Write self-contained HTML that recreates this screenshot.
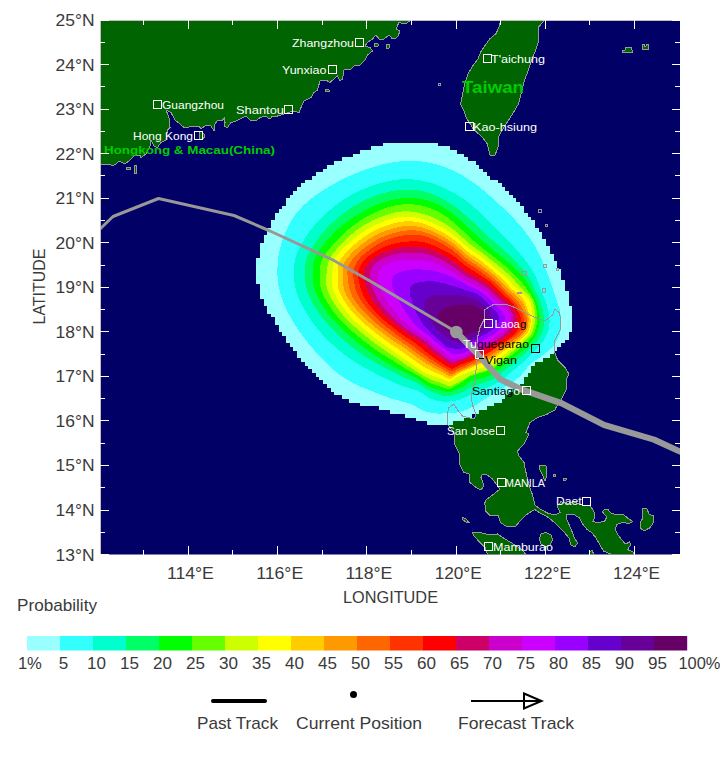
<!DOCTYPE html><html><head><meta charset="utf-8"><title>Storm probability</title><style>html,body{margin:0;padding:0;background:#fff}body{width:720px;height:765px;position:relative;overflow:hidden;font-family:"Liberation Sans",sans-serif}</style></head><body><svg width="720" height="765" viewBox="0 0 720 765" style="position:absolute;left:0;top:0;font-family:'Liberation Sans',sans-serif">
<defs><clipPath id="mc"><rect x="100" y="20" width="580" height="534.5"/></clipPath></defs>
<rect x="0" y="0" width="720" height="765" fill="#ffffff"/>
<rect x="100" y="20" width="580" height="534.5" fill="#000066"/>
<g clip-path="url(#mc)" shape-rendering="crispEdges">
<path d="M100.0 20.0 L410.0 20.0 L410.0 21.0 L405.0 24.0 L399.0 22.5 L396.0 29.0 L400.0 31.0 L397.5 37.5 L392.5 39.0 L389.0 35.0 L384.0 39.0 L379.0 39.0 L376.0 35.0 L372.5 39.0 L367.5 42.5 L365.0 46.0 L370.0 47.5 L372.5 51.0 L367.5 55.0 L365.0 60.0 L360.0 65.0 L355.0 65.0 L351.0 69.0 L344.0 70.0 L342.5 79.0 L340.0 81.0 L337.5 76.0 L334.0 79.0 L330.0 82.5 L326.0 80.0 L320.0 81.0 L317.5 90.0 L314.0 92.5 L311.0 97.5 L304.0 101.0 L301.0 107.5 L299.0 112.5 L292.5 111.0 L284.0 114.0 L277.5 116.0 L272.5 116.0 L270.0 119.0 L265.0 116.0 L260.0 117.5 L256.0 121.0 L250.0 120.0 L246.0 116.0 L240.0 119.0 L236.0 121.0 L231.0 122.5 L227.5 127.5 L224.0 126.0 L225.0 122.5 L224.5 117.5 L222.5 120.0 L217.5 120.0 L215.0 124.0 L214.0 131.0 L211.0 126.0 L206.0 125.0 L201.0 129.0 L199.0 126.0 L184.0 127.5 L180.0 124.0 L175.0 120.0 L171.0 112.5 L166.0 110.0 L169.0 117.5 L170.0 127.5 L167.5 130.0 L166.0 140.0 L161.0 142.5 L157.5 147.5 L154.0 146.0 L151.0 140.0 L150.0 146.0 L146.0 154.0 L141.0 157.5 L140.0 155.0 L134.0 156.0 L130.0 160.0 L125.0 164.0 L119.0 161.0 L116.0 164.0 L112.5 166.0 L110.0 164.0 L100.0 164.0Z M500.8 20.0 L498.8 27.8 L495.9 33.7 L490.0 38.6 L485.0 45.5 L481.0 51.4 L478.0 59.0 L472.0 67.0 L467.5 75.0 L464.5 84.7 L462.5 94.5 L460.6 104.0 L463.5 110.0 L466.5 118.0 L474.0 130.0 L481.0 135.7 L487.0 143.5 L490.0 155.0 L495.0 155.0 L498.0 147.5 L499.0 135.7 L504.7 126.0 L512.5 114.0 L518.4 104.0 L521.4 92.5 L524.3 80.8 L528.0 71.0 L532.0 59.0 L536.0 49.4 L539.0 39.6 L538.0 27.8 L542.0 23.0 L545.0 20.0Z M484.0 310.0 L492.5 305.0 L505.0 304.0 L515.0 307.5 L525.0 312.5 L535.0 317.5 L545.0 321.0 L552.5 315.0 L555.0 309.0 L559.0 312.5 L561.0 320.0 L560.0 330.0 L555.0 340.0 L554.0 350.0 L557.5 360.0 L565.0 367.5 L569.0 374.0 L566.0 380.0 L566.0 390.0 L562.5 397.5 L556.0 407.5 L555.0 410.0 L547.5 414.0 L537.5 417.5 L530.0 422.5 L526.0 432.5 L529.0 434.0 L524.0 444.0 L517.5 451.0 L519.0 456.0 L524.0 462.5 L526.0 472.5 L529.0 485.0 L532.5 495.0 L535.0 505.0 L540.0 509.0 L547.5 513.0 L555.0 515.0 L560.0 512.5 L557.0 506.0 L561.0 501.7 L567.0 503.8 L573.0 501.7 L581.7 505.0 L590.0 505.0 L594.0 512.0 L595.0 517.0 L593.0 521.5 L597.0 522.5 L604.6 521.5 L606.7 517.0 L602.5 512.0 L604.6 509.0 L607.7 509.0 L610.8 513.0 L617.0 515.0 L623.0 514.0 L627.5 518.0 L632.7 521.5 L629.6 523.5 L622.0 522.5 L617.0 524.6 L615.0 528.8 L618.0 535.0 L622.0 540.0 L625.4 544.0 L629.6 542.0 L630.6 545.0 L627.5 549.6 L632.7 551.7 L634.8 554.5 L612.0 554.5 L603.5 551.0 L599.5 544.0 L595.5 537.0 L591.5 532.5 L587.0 529.5 L583.0 524.6 L579.6 518.0 L573.0 514.0 L566.0 514.0 L567.0 520.0 L571.0 528.8 L574.0 537.0 L577.5 543.0 L575.0 546.5 L571.0 545.4 L569.0 538.0 L564.0 532.0 L557.7 525.6 L551.5 520.0 L546.0 516.0 L540.0 513.0 L535.0 509.6 L531.4 511.4 L526.0 515.0 L520.4 520.5 L515.0 527.0 L505.8 526.0 L500.3 522.4 L498.5 516.0 L489.4 515.0 L485.7 511.4 L484.8 503.0 L486.0 500.0 L492.5 495.0 L500.0 489.0 L497.5 486.0 L492.5 479.0 L486.0 474.0 L482.5 474.0 L481.0 477.5 L484.0 486.0 L481.0 490.0 L476.0 487.5 L470.0 482.5 L469.0 474.0 L464.0 472.5 L460.0 465.0 L459.0 452.5 L455.0 445.0 L454.0 432.5 L448.0 425.0 L447.0 415.0 L449.0 407.5 L454.0 404.0 L457.5 410.0 L462.5 416.0 L474.0 419.0 L476.0 415.0 L472.5 405.0 L471.0 395.0 L474.0 385.0 L476.0 370.0 L477.5 355.0 L477.5 337.5 L480.0 327.5 L485.0 317.5Z M643.0 508.0 L647.0 509.0 L649.0 514.0 L653.5 516.0 L653.5 522.5 L650.0 527.7 L644.0 531.0 L640.0 527.7 L640.0 522.5 L643.0 518.0 L642.0 512.0Z M539.0 466.0 L546.0 465.5 L547.0 475.0 L545.0 481.0 L542.5 475.0 L540.0 470.0Z M541.0 534.0 L546.0 532.5 L551.0 535.0 L552.5 540.0 L550.0 545.0 L545.0 546.5 L541.0 544.0 L539.5 539.0Z M472.5 532.5 L480.0 532.5 L490.0 535.0 L497.5 534.0 L505.0 539.0 L515.0 545.0 L522.0 550.0 L526.0 554.5 L487.5 554.5 L485.0 547.5 L480.0 542.5 L474.0 536.0Z M462.5 517.5 L466.0 519.0 L469.0 522.5 L466.0 522.0 L463.0 520.0Z M622.0 50.5 L625.0 50.0 L626.0 47.5 L631.0 47.5 L632.0 50.0 L633.0 52.7 L622.0 52.7Z M642.0 44.0 L644.0 44.0 L644.0 46.0 L646.0 46.0 L646.0 44.0 L648.0 44.0 L648.0 49.6 L642.0 49.6Z M325.0 89.5 L329.0 89.5 L329.0 91.5 L325.0 91.5Z M374.0 43.5 L378.0 43.5 L378.0 46.0 L374.0 46.0Z M386.0 44.0 L389.0 44.0 L389.0 48.0 L386.0 48.0Z M126.0 168.0 L130.0 167.0 L130.0 169.5 L126.0 169.5Z M134.0 165.0 L136.5 165.0 L136.5 173.0 L134.0 173.0Z M199.0 131.5 L202.0 131.0 L205.0 136.0 L203.0 139.0 L199.0 139.0Z M589.5 551.5 L592.0 550.5 L594.0 554.5 L589.5 554.5Z M553.0 474.0 L555.5 474.0 L555.5 476.0 L553.0 476.0Z M563.0 478.0 L566.0 478.0 L566.0 480.0 L563.0 480.0Z" fill="#006400" stroke="#999999" stroke-width="1" stroke-linejoin="round"/>
<path d="M382.6 142.5h55.8v4.0h-55.8zM371.4 146.2h78.1v4.0h-78.1zM360.3 149.9h96.7v4.0h-96.7zM352.8 153.6h111.5v4.0h-111.5zM341.7 157.3h126.4v4.0h-126.4zM334.2 161.0h141.3v4.0h-141.3zM326.8 164.8h152.4v4.0h-152.4zM323.1 168.5h159.9v4.0h-159.9zM315.6 172.2h171.0v4.0h-171.0zM311.9 175.9h178.5v4.0h-178.5zM304.5 179.6h193.3v4.0h-193.3zM300.8 183.3h200.8v4.0h-200.8zM297.1 187.0h208.2v4.0h-208.2zM293.3 190.7h215.6v4.0h-215.6zM289.6 194.5h223.1v4.0h-223.1zM285.9 198.2h230.5v4.0h-230.5zM285.9 201.9h234.2v4.0h-234.2zM282.2 205.6h241.7v4.0h-241.7zM278.5 209.3h245.4v4.0h-245.4zM274.7 213.0h252.8v4.0h-252.8zM274.7 216.7h256.5v4.0h-256.5zM271.0 220.4h264.0v4.0h-264.0zM271.0 224.1h264.0v4.0h-264.0zM267.3 227.9h271.4v4.0h-271.4zM267.3 231.6h275.1v4.0h-275.1zM263.6 235.3h278.8v4.0h-278.8zM263.6 239.0h282.6v4.0h-282.6zM259.9 242.7h286.3v4.0h-286.3zM259.9 246.4h290.0v4.0h-290.0zM259.9 250.1h290.0v4.0h-290.0zM259.9 253.8h293.7v4.0h-293.7zM256.2 257.6h297.4v4.0h-297.4zM256.2 261.3h301.2v4.0h-301.2zM256.2 265.0h301.2v4.0h-301.2zM256.2 268.7h304.9v4.0h-304.9zM256.2 272.4h304.9v4.0h-304.9zM256.2 276.1h304.9v4.0h-304.9zM256.2 279.8h308.6v4.0h-308.6zM259.9 283.5h304.9v4.0h-304.9zM259.9 287.2h304.9v4.0h-304.9zM259.9 291.0h308.6v4.0h-308.6zM259.9 294.7h308.6v4.0h-308.6zM263.6 298.4h304.9v4.0h-304.9zM263.6 302.1h304.9v4.0h-304.9zM267.3 305.8h304.9v4.0h-304.9zM267.3 309.5h304.9v4.0h-304.9zM271.0 313.2h301.2v4.0h-301.2zM274.7 316.9h297.4v4.0h-297.4zM274.7 320.7h297.4v4.0h-297.4zM278.5 324.4h293.7v4.0h-293.7zM278.5 328.1h293.7v4.0h-293.7zM282.2 331.8h286.3v4.0h-286.3zM285.9 335.5h282.6v4.0h-282.6zM285.9 339.2h278.8v4.0h-278.8zM289.6 342.9h271.4v4.0h-271.4zM293.3 346.6h264.0v4.0h-264.0zM297.1 350.4h256.5v4.0h-256.5zM297.1 354.1h252.8v4.0h-252.8zM300.8 357.8h241.7v4.0h-241.7zM304.5 361.5h230.5v4.0h-230.5zM308.2 365.2h223.1v4.0h-223.1zM311.9 368.9h219.4v4.0h-219.4zM315.6 372.6h211.9v4.0h-211.9zM319.4 376.3h204.5v4.0h-204.5zM323.1 380.0h200.8v4.0h-200.8zM326.8 383.8h193.3v4.0h-193.3zM330.5 387.5h182.2v4.0h-182.2zM334.2 391.2h174.7v4.0h-174.7zM341.7 394.9h163.6v4.0h-163.6zM349.1 398.6h152.4v4.0h-152.4zM360.3 402.3h133.8v4.0h-133.8zM378.8 406.0h107.8v4.0h-107.8zM390.0 409.7h89.2v4.0h-89.2zM404.9 413.5h66.9v4.0h-66.9zM416.0 417.2h48.3v4.0h-48.3zM427.2 420.9h26.0v4.0h-26.0z" fill="#99ffff" shape-rendering="crispEdges"/>
<path d="M561.4 320.0 L561.4 323.5 L561.2 326.9 L560.6 330.4 L559.8 333.7 L558.6 337.0 L557.1 340.2 L555.2 343.2 L553.1 346.1 L550.6 348.8 L547.9 351.3 L545.1 353.6 L542.2 355.7 L539.3 357.7 L536.4 359.6 L533.8 361.4 L531.4 363.4 L529.3 365.4 L527.4 367.5 L525.6 369.7 L523.8 371.9 L522.0 374.0 L520.0 376.0 L518.0 378.0 L515.9 379.8 L513.7 381.6 L511.4 383.2 L509.0 384.7 L506.7 386.2 L504.3 387.6 L501.9 389.0 L499.4 390.4 L497.0 391.8 L494.6 393.1 L492.1 394.6 L489.7 396.1 L487.2 397.7 L484.7 399.3 L482.2 401.0 L479.6 402.7 L476.9 404.3 L474.1 405.9 L471.2 407.4 L468.2 408.8 L465.1 410.1 L462.0 411.2 L458.8 412.1 L455.5 412.8 L452.2 413.2 L448.9 413.4 L445.5 413.4 L442.1 413.5 L438.7 413.6 L435.2 413.4 L431.8 412.9 L428.5 412.2 L425.2 411.2 L422.0 409.9 L418.9 408.4 L415.9 406.7 L412.9 405.1 L409.7 403.7 L406.3 402.5 L402.7 401.6 L399.0 400.6 L395.2 399.6 L391.4 398.5 L387.5 397.2 L383.5 395.8 L379.5 394.3 L375.4 392.6 L371.2 391.0 L366.8 389.2 L362.2 387.3 L357.6 385.2 L353.0 382.9 L348.4 380.4 L343.9 377.6 L339.5 374.5 L335.2 371.2 L331.0 367.7 L326.9 363.9 L322.9 359.9 L318.9 355.7 L315.0 351.2 L311.0 346.6 L307.1 341.8 L303.1 336.7 L299.3 331.4 L295.6 325.8 L292.0 320.0 L288.7 313.9 L285.6 307.7 L282.9 301.2 L280.6 294.5 L278.8 287.7 L277.8 280.9 L277.4 274.0 L277.5 267.1 L277.9 260.2 L278.9 253.4 L280.5 246.7 L282.5 240.1 L285.0 233.7 L287.7 227.3 L290.8 221.2 L294.7 215.5 L299.1 210.1 L303.8 205.1 L309.0 200.4 L314.4 196.2 L320.1 192.3 L325.9 188.6 L331.8 185.1 L337.6 181.8 L343.5 178.8 L349.5 176.0 L355.5 173.4 L361.5 171.1 L367.6 168.9 L373.7 167.0 L379.7 165.2 L385.8 163.7 L391.9 162.5 L398.0 161.6 L404.1 161.0 L410.3 160.8 L416.4 161.0 L422.5 161.6 L428.5 162.5 L434.5 163.8 L440.3 165.5 L446.0 167.5 L451.5 169.8 L456.8 172.3 L462.0 175.2 L467.0 178.2 L471.7 181.3 L476.2 184.6 L480.6 188.0 L484.7 191.4 L488.6 194.8 L492.4 198.1 L496.0 201.4 L499.5 204.6 L502.9 207.7 L506.1 210.8 L509.3 213.9 L512.3 216.9 L515.2 220.0 L517.9 223.1 L520.6 226.2 L523.2 229.3 L525.6 232.4 L528.0 235.6 L530.2 238.7 L532.3 241.9 L534.3 245.1 L536.2 248.3 L538.0 251.6 L539.6 254.9 L541.1 258.2 L542.6 261.5 L544.0 264.7 L545.3 268.0 L546.5 271.2 L547.8 274.4 L549.0 277.6 L550.1 280.8 L551.2 283.9 L552.3 287.1 L553.4 290.3 L554.5 293.5 L555.5 296.7 L556.6 299.9 L557.6 303.1 L558.7 306.4 L559.6 309.7 L560.4 313.1 L561.0 316.5Z" fill="#33ffff"/>
<path d="M549.5 320.0 L549.5 323.1 L549.3 326.1 L548.7 329.1 L547.9 332.1 L546.8 334.9 L545.4 337.7 L543.8 340.4 L542.0 342.9 L540.0 345.3 L537.9 347.6 L535.8 349.8 L533.6 351.9 L531.5 353.9 L529.5 355.9 L527.5 357.8 L525.6 359.7 L523.6 361.6 L521.7 363.4 L519.7 365.1 L517.7 366.8 L515.8 368.4 L513.8 370.0 L511.9 371.7 L510.0 373.3 L508.0 374.9 L506.1 376.4 L504.1 378.0 L502.1 379.5 L500.1 380.9 L498.0 382.3 L495.8 383.7 L493.6 384.9 L491.4 386.0 L489.1 387.0 L486.7 388.0 L484.4 388.9 L482.0 389.8 L479.6 390.8 L477.3 391.8 L474.8 392.8 L472.4 394.0 L469.9 395.2 L467.3 396.4 L464.7 397.6 L462.0 398.7 L459.2 399.7 L456.4 400.4 L453.5 400.9 L450.6 401.3 L447.6 401.6 L444.6 401.7 L441.7 401.5 L438.8 401.1 L435.9 400.4 L433.0 399.6 L430.3 398.5 L427.6 397.2 L425.2 395.5 L422.8 393.7 L420.4 392.1 L417.7 390.8 L414.9 389.9 L411.9 389.0 L408.8 388.1 L405.7 387.1 L402.6 386.0 L399.5 384.8 L396.3 383.5 L393.1 382.1 L389.8 380.6 L386.5 379.0 L383.0 377.4 L379.6 375.6 L376.0 373.8 L372.3 371.8 L368.4 369.8 L364.4 367.6 L360.4 365.3 L356.2 362.7 L352.0 360.0 L347.9 357.1 L343.7 353.9 L339.5 350.6 L335.2 346.9 L331.0 343.1 L326.8 339.0 L322.6 334.6 L318.6 330.0 L314.7 325.1 L310.9 320.0 L307.4 314.6 L304.0 309.0 L300.9 303.1 L298.2 297.0 L296.1 290.7 L294.6 284.4 L294.0 278.1 L293.8 271.8 L294.1 265.4 L295.0 259.2 L297.0 253.3 L299.6 247.7 L302.5 242.2 L305.7 236.9 L309.2 231.8 L313.0 226.9 L317.0 222.2 L321.4 217.8 L325.9 213.7 L330.5 209.6 L335.1 205.7 L339.9 202.1 L344.9 198.8 L350.1 195.7 L355.4 192.9 L360.7 190.4 L366.2 188.1 L371.6 186.0 L377.1 184.1 L382.6 182.5 L388.2 181.2 L393.8 180.2 L399.4 179.5 L405.1 179.2 L410.8 179.3 L416.4 179.8 L422.1 180.7 L427.6 182.0 L433.0 183.6 L438.3 185.5 L443.4 187.7 L448.3 190.0 L453.1 192.5 L457.6 195.2 L462.0 198.0 L466.2 200.9 L470.1 203.9 L473.9 207.1 L477.4 210.3 L480.8 213.5 L484.0 216.6 L487.0 219.7 L489.9 222.6 L492.7 225.5 L495.4 228.2 L498.1 230.8 L500.6 233.3 L503.1 235.7 L505.5 238.1 L507.9 240.5 L510.2 242.9 L512.4 245.3 L514.6 247.6 L516.7 250.0 L518.7 252.4 L520.7 254.8 L522.7 257.1 L524.6 259.5 L526.5 262.0 L528.3 264.4 L530.0 266.9 L531.7 269.4 L533.2 272.0 L534.7 274.6 L536.0 277.3 L537.2 280.0 L538.3 282.8 L539.3 285.6 L540.3 288.4 L541.3 291.1 L542.5 293.9 L543.7 296.6 L544.8 299.4 L545.8 302.2 L546.8 305.1 L547.6 308.0 L548.3 310.9 L548.8 313.9 L549.2 317.0Z" fill="#00ffcc"/>
<path d="M544.1 320.0 L544.0 322.9 L543.7 325.7 L543.2 328.5 L542.4 331.3 L541.4 334.0 L540.1 336.6 L538.6 339.1 L537.0 341.5 L535.1 343.8 L533.1 345.9 L531.1 347.9 L529.0 349.8 L527.0 351.7 L525.0 353.5 L523.0 355.2 L521.1 356.9 L519.2 358.6 L517.3 360.2 L515.4 361.7 L513.5 363.2 L511.7 364.7 L509.9 366.2 L508.1 367.7 L506.3 369.2 L504.5 370.6 L502.7 372.1 L500.9 373.5 L499.0 374.9 L497.1 376.2 L495.2 377.5 L493.2 378.7 L491.2 379.8 L489.1 380.8 L486.9 381.7 L484.8 382.5 L482.6 383.3 L480.4 384.1 L478.2 384.8 L475.9 385.6 L473.7 386.5 L471.5 387.4 L469.2 388.6 L466.9 389.8 L464.5 391.1 L462.0 392.3 L459.4 393.3 L456.8 394.1 L454.1 394.9 L451.4 395.7 L448.6 396.2 L445.8 396.2 L443.1 395.7 L440.5 394.9 L437.9 394.1 L435.3 393.3 L432.8 392.4 L430.3 391.3 L427.9 390.0 L425.6 388.5 L423.3 387.0 L421.1 385.5 L418.8 384.1 L416.4 382.8 L413.8 381.6 L411.2 380.5 L408.5 379.4 L405.8 378.2 L403.0 377.0 L400.1 375.7 L397.2 374.3 L394.3 372.9 L391.3 371.3 L388.3 369.7 L385.2 368.0 L382.0 366.2 L378.6 364.4 L375.1 362.4 L371.4 360.3 L367.8 358.1 L364.0 355.7 L360.2 353.1 L356.4 350.3 L352.5 347.3 L348.5 344.1 L344.4 340.7 L340.3 337.1 L336.2 333.2 L332.1 329.1 L328.1 324.7 L324.1 320.0 L320.3 315.1 L316.7 309.8 L313.4 304.4 L310.4 298.7 L307.8 292.8 L306.0 286.8 L305.0 280.9 L304.7 274.9 L304.8 268.9 L305.4 263.0 L306.9 257.3 L309.4 252.0 L312.4 247.0 L315.6 242.2 L319.0 237.4 L322.6 232.9 L326.4 228.6 L330.5 224.4 L334.7 220.5 L339.0 216.8 L343.5 213.3 L348.1 210.0 L352.8 206.9 L357.6 204.0 L362.5 201.4 L367.5 199.0 L372.6 196.9 L377.7 195.0 L382.9 193.3 L388.1 192.0 L393.3 190.9 L398.6 190.1 L403.9 189.6 L409.3 189.5 L414.6 189.9 L420.0 190.6 L425.2 191.8 L430.4 193.4 L435.5 195.3 L440.4 197.6 L445.2 200.2 L449.7 203.1 L454.0 206.0 L458.1 209.1 L462.0 212.3 L465.7 215.4 L469.1 218.5 L472.4 221.4 L475.5 224.3 L478.4 227.1 L481.2 229.7 L483.9 232.3 L486.4 234.8 L488.9 237.1 L491.4 239.3 L493.7 241.4 L496.1 243.5 L498.4 245.4 L500.6 247.4 L502.8 249.3 L505.0 251.2 L507.1 253.1 L509.2 255.0 L511.2 257.0 L513.2 259.0 L515.2 260.9 L517.1 263.0 L519.0 265.0 L520.8 267.1 L522.6 269.1 L524.4 271.3 L526.1 273.4 L527.7 275.7 L529.3 277.9 L530.7 280.3 L532.0 282.8 L533.2 285.3 L534.2 287.8 L535.3 290.4 L536.4 292.9 L537.7 295.4 L538.9 298.0 L539.9 300.6 L540.8 303.2 L541.6 306.0 L542.4 308.7 L543.0 311.5 L543.5 314.3 L543.9 317.1Z" fill="#00ff66"/>
<path d="M539.8 320.0 L539.5 322.7 L539.1 325.4 L538.6 328.0 L537.9 330.7 L536.9 333.2 L535.7 335.7 L534.4 338.0 L532.8 340.3 L531.1 342.4 L529.2 344.5 L527.3 346.4 L525.3 348.2 L523.4 349.9 L521.4 351.6 L519.5 353.2 L517.6 354.7 L515.7 356.2 L513.9 357.7 L512.0 359.1 L510.3 360.5 L508.5 361.9 L506.8 363.2 L505.0 364.6 L503.3 365.9 L501.7 367.3 L500.0 368.6 L498.3 369.9 L496.6 371.2 L494.8 372.5 L493.0 373.7 L491.1 374.8 L489.2 375.8 L487.2 376.6 L485.2 377.4 L483.1 378.0 L481.0 378.6 L479.0 379.1 L476.9 379.6 L474.8 380.1 L472.7 380.6 L470.6 381.4 L468.6 382.5 L466.5 384.1 L464.3 385.7 L462.0 387.1 L459.6 388.4 L457.1 389.4 L454.6 390.4 L452.0 391.5 L449.3 392.1 L446.7 391.9 L444.2 391.4 L441.7 390.7 L439.3 390.0 L436.7 389.4 L434.2 388.7 L431.8 387.9 L429.4 386.9 L427.1 385.7 L424.9 384.3 L422.8 382.7 L420.8 381.0 L418.7 379.6 L416.5 378.2 L414.2 377.0 L411.7 375.8 L409.2 374.7 L406.6 373.5 L404.0 372.2 L401.3 370.9 L398.7 369.5 L396.0 368.0 L393.2 366.4 L390.4 364.7 L387.5 363.0 L384.5 361.2 L381.3 359.4 L378.1 357.4 L374.8 355.2 L371.4 353.0 L368.0 350.5 L364.5 348.0 L360.9 345.2 L357.2 342.3 L353.3 339.2 L349.5 335.8 L345.5 332.2 L341.5 328.4 L337.4 324.4 L333.4 320.0 L329.6 315.4 L325.9 310.5 L322.5 305.3 L319.3 299.9 L316.5 294.3 L314.4 288.6 L313.2 282.9 L312.8 277.2 L312.7 271.5 L312.9 265.7 L313.9 260.2 L316.2 255.1 L319.3 250.4 L322.6 245.9 L326.1 241.6 L329.8 237.4 L333.5 233.4 L337.5 229.5 L341.6 225.9 L345.9 222.5 L350.2 219.4 L354.7 216.3 L359.2 213.5 L363.8 210.9 L368.4 208.4 L373.1 206.2 L377.9 204.2 L382.7 202.5 L387.6 201.0 L392.6 199.7 L397.5 198.8 L402.5 198.1 L407.6 197.8 L412.6 197.8 L417.7 198.3 L422.7 199.1 L427.7 200.3 L432.6 201.9 L437.3 204.0 L442.0 206.4 L446.4 209.2 L450.7 212.2 L454.7 215.3 L458.5 218.6 L462.0 221.8 L465.3 224.9 L468.4 227.8 L471.4 230.5 L474.2 233.1 L476.9 235.6 L479.4 237.9 L481.9 240.2 L484.3 242.4 L486.6 244.4 L488.8 246.4 L491.0 248.2 L493.2 249.9 L495.3 251.6 L497.5 253.3 L499.6 254.9 L501.6 256.6 L503.7 258.2 L505.7 259.9 L507.6 261.6 L509.6 263.3 L511.5 265.0 L513.4 266.8 L515.2 268.6 L517.0 270.5 L518.8 272.3 L520.6 274.2 L522.3 276.2 L524.0 278.2 L525.6 280.3 L527.0 282.5 L528.3 284.7 L529.5 287.1 L530.6 289.5 L531.7 291.8 L533.0 294.2 L534.3 296.5 L535.5 298.9 L536.5 301.4 L537.3 304.0 L538.0 306.6 L538.6 309.2 L539.1 311.9 L539.5 314.6 L539.8 317.3Z" fill="#00ff00"/>
<path d="M537.3 320.0 L537.0 322.6 L536.5 325.2 L535.9 327.8 L535.2 330.3 L534.2 332.7 L532.9 335.1 L531.3 337.3 L529.6 339.4 L527.8 341.4 L526.0 343.3 L524.1 345.1 L522.1 346.8 L520.2 348.4 L518.3 350.0 L516.5 351.4 L514.6 352.9 L512.8 354.3 L511.1 355.6 L509.3 357.0 L507.6 358.3 L505.9 359.5 L504.2 360.8 L502.6 362.0 L501.0 363.3 L499.3 364.5 L497.7 365.6 L496.0 366.8 L494.3 367.9 L492.5 368.9 L490.7 369.8 L488.9 370.6 L487.0 371.3 L485.1 371.9 L483.2 372.4 L481.3 372.9 L479.4 373.4 L477.5 374.0 L475.6 374.5 L473.7 375.1 L471.8 375.8 L470.0 376.7 L468.1 377.8 L466.1 379.1 L464.1 380.6 L462.0 382.0 L459.8 383.4 L457.5 384.7 L455.1 386.1 L452.5 387.7 L449.9 388.8 L447.4 388.9 L445.0 388.2 L442.7 387.3 L440.4 386.5 L438.1 385.8 L435.7 385.1 L433.3 384.4 L431.0 383.5 L428.8 382.4 L426.7 381.2 L424.7 379.8 L422.6 378.4 L420.6 377.0 L418.5 375.7 L416.3 374.5 L414.0 373.3 L411.8 372.0 L409.4 370.7 L407.1 369.4 L404.7 368.1 L402.3 366.6 L399.9 365.1 L397.4 363.5 L394.9 361.9 L392.2 360.3 L389.4 358.6 L386.6 356.8 L383.6 354.9 L380.5 352.9 L377.4 350.8 L374.1 348.6 L370.8 346.2 L367.3 343.6 L363.8 340.9 L360.1 338.0 L356.4 334.8 L352.5 331.5 L348.6 327.9 L344.6 324.1 L340.6 320.0 L336.7 315.6 L333.1 311.0 L329.6 306.1 L326.3 300.9 L323.5 295.6 L321.2 290.1 L319.9 284.6 L319.5 279.1 L319.6 273.7 L319.9 268.3 L320.8 263.0 L322.8 258.0 L325.6 253.5 L329.0 249.3 L332.5 245.3 L336.1 241.3 L339.7 237.5 L343.4 233.9 L347.3 230.4 L351.3 227.1 L355.4 224.0 L359.6 221.1 L363.8 218.3 L368.2 215.8 L372.6 213.5 L377.1 211.4 L381.7 209.5 L386.3 207.8 L391.0 206.4 L395.8 205.3 L400.6 204.6 L405.5 204.2 L410.4 204.2 L415.4 204.6 L420.3 205.4 L425.2 206.6 L429.9 208.1 L434.6 210.0 L439.1 212.2 L443.4 214.8 L447.6 217.5 L451.5 220.5 L455.3 223.7 L458.7 226.9 L462.0 230.0 L465.0 233.0 L467.9 235.7 L470.6 238.2 L473.2 240.4 L475.7 242.4 L478.1 244.4 L480.4 246.2 L482.6 248.1 L484.8 249.8 L486.9 251.5 L489.0 253.2 L491.0 254.8 L493.1 256.3 L495.0 257.9 L497.0 259.4 L498.9 260.9 L500.8 262.4 L502.7 264.0 L504.6 265.5 L506.4 267.1 L508.2 268.7 L510.0 270.3 L511.7 272.0 L513.4 273.7 L515.1 275.4 L516.8 277.2 L518.5 279.0 L520.2 280.8 L521.8 282.6 L523.4 284.5 L525.0 286.5 L526.5 288.6 L527.9 290.7 L529.4 292.8 L530.9 294.9 L532.3 297.2 L533.6 299.5 L534.6 301.9 L535.4 304.4 L536.0 307.0 L536.5 309.5 L536.9 312.1 L537.3 314.7 L537.4 317.4Z" fill="#66ff00"/>
<path d="M535.1 320.0 L534.7 322.5 L534.3 325.1 L533.7 327.5 L533.0 330.0 L532.0 332.3 L530.6 334.6 L529.0 336.7 L527.3 338.7 L525.4 340.6 L523.6 342.4 L521.7 344.1 L519.8 345.7 L518.0 347.3 L516.1 348.8 L514.4 350.2 L512.6 351.6 L510.9 353.0 L509.2 354.3 L507.6 355.6 L506.0 356.9 L504.4 358.2 L502.8 359.4 L501.2 360.6 L499.6 361.8 L498.1 363.0 L496.5 364.1 L494.8 365.2 L493.2 366.3 L491.5 367.3 L489.9 368.2 L488.1 369.1 L486.4 370.0 L484.6 370.7 L482.7 371.3 L480.9 371.8 L479.0 372.3 L477.1 372.8 L475.3 373.4 L473.5 374.0 L471.6 374.6 L469.8 375.5 L467.9 376.6 L466.1 377.9 L464.1 379.3 L462.0 380.5 L459.8 381.6 L457.6 382.7 L455.3 383.8 L452.9 385.0 L450.4 386.0 L448.0 385.9 L445.8 385.0 L443.6 384.0 L441.5 383.1 L439.3 382.3 L437.1 381.7 L434.8 381.0 L432.6 380.3 L430.4 379.4 L428.3 378.3 L426.3 377.2 L424.3 376.0 L422.2 374.7 L420.2 373.5 L418.1 372.3 L416.0 371.0 L414.0 369.7 L411.9 368.4 L409.8 367.0 L407.6 365.6 L405.5 364.2 L403.3 362.7 L401.0 361.1 L398.7 359.5 L396.3 357.9 L393.8 356.3 L391.2 354.5 L388.5 352.7 L385.7 350.8 L382.8 348.8 L379.8 346.7 L376.6 344.5 L373.4 342.1 L370.1 339.5 L366.6 336.8 L363.1 333.9 L359.3 330.8 L355.5 327.4 L351.5 323.9 L347.6 320.0 L343.7 315.9 L340.0 311.5 L336.5 306.8 L333.3 301.9 L330.3 296.8 L328.0 291.5 L326.5 286.2 L326.1 281.0 L326.3 275.9 L326.8 270.8 L327.6 265.7 L328.9 260.7 L331.2 256.2 L334.3 252.1 L337.5 248.1 L340.9 244.3 L344.4 240.7 L348.1 237.3 L351.9 234.0 L355.8 230.9 L359.8 228.0 L363.9 225.2 L368.1 222.8 L372.4 220.5 L376.8 218.5 L381.3 216.7 L385.8 215.1 L390.3 213.7 L394.9 212.6 L399.5 211.8 L404.2 211.3 L409.0 211.4 L413.8 211.8 L418.7 212.8 L423.4 214.0 L428.1 215.5 L432.6 217.3 L436.9 219.3 L441.0 221.4 L445.0 223.7 L448.8 226.1 L452.4 228.8 L455.8 231.5 L459.0 234.3 L462.0 237.1 L464.8 239.7 L467.4 242.1 L470.0 244.2 L472.4 246.0 L474.8 247.7 L477.0 249.3 L479.2 250.8 L481.4 252.4 L483.4 254.0 L485.5 255.5 L487.4 257.1 L489.3 258.6 L491.2 260.1 L493.1 261.5 L494.9 263.0 L496.7 264.4 L498.5 265.8 L500.3 267.3 L502.1 268.7 L503.8 270.2 L505.5 271.7 L507.2 273.2 L508.8 274.8 L510.4 276.4 L512.1 278.0 L513.7 279.6 L515.3 281.3 L516.9 283.0 L518.6 284.7 L520.2 286.4 L522.0 288.1 L523.7 289.9 L525.4 291.8 L527.2 293.7 L528.9 295.7 L530.5 297.7 L531.8 300.0 L532.9 302.3 L533.6 304.8 L534.1 307.3 L534.5 309.8 L534.9 312.3 L535.2 314.9 L535.3 317.4Z" fill="#ccff00"/>
<path d="M532.4 320.0 L532.0 322.4 L531.6 324.9 L531.1 327.3 L530.4 329.6 L529.4 331.9 L528.0 334.0 L526.3 336.0 L524.5 337.9 L522.7 339.7 L520.8 341.4 L519.0 343.0 L517.2 344.6 L515.4 346.0 L513.6 347.5 L511.9 348.8 L510.2 350.1 L508.6 351.4 L506.9 352.7 L505.3 353.9 L503.8 355.0 L502.2 356.2 L500.6 357.3 L499.1 358.4 L497.6 359.5 L496.0 360.5 L494.5 361.5 L492.9 362.5 L491.3 363.4 L489.7 364.3 L488.0 365.1 L486.4 365.8 L484.7 366.6 L483.1 367.3 L481.4 368.0 L479.7 368.6 L478.0 369.2 L476.3 369.8 L474.6 370.4 L472.8 371.0 L471.1 371.6 L469.3 372.2 L467.6 372.8 L465.7 373.5 L463.9 374.2 L462.0 374.9 L460.1 375.7 L458.0 376.6 L455.9 377.8 L453.6 379.6 L451.2 381.3 L448.9 381.8 L446.8 381.1 L444.7 380.2 L442.8 379.1 L440.8 378.2 L438.8 377.5 L436.6 377.0 L434.5 376.4 L432.4 375.7 L430.3 374.9 L428.2 374.1 L426.2 373.1 L424.1 372.1 L422.1 371.1 L420.1 369.9 L418.2 368.6 L416.3 367.3 L414.4 365.9 L412.5 364.5 L410.6 363.1 L408.6 361.7 L406.6 360.3 L404.5 358.8 L402.3 357.3 L400.1 355.8 L397.8 354.2 L395.4 352.5 L392.9 350.8 L390.3 349.0 L387.5 347.1 L384.7 345.1 L381.7 343.0 L378.6 340.8 L375.5 338.4 L372.3 335.8 L368.9 333.1 L365.3 330.2 L361.6 327.0 L357.7 323.6 L353.9 320.0 L350.1 316.1 L346.4 311.9 L343.0 307.5 L339.7 302.8 L336.7 297.9 L334.2 292.8 L332.6 287.7 L332.0 282.7 L332.0 277.8 L332.3 272.8 L332.5 267.7 L333.2 262.6 L335.0 258.1 L338.1 254.1 L341.5 250.4 L345.0 246.9 L348.6 243.5 L352.3 240.3 L356.1 237.3 L359.9 234.3 L363.8 231.6 L367.8 229.0 L371.9 226.7 L376.1 224.6 L380.4 222.7 L384.7 221.1 L389.1 219.6 L393.5 218.4 L397.9 217.4 L402.4 216.7 L407.0 216.5 L411.6 216.7 L416.3 217.5 L421.0 218.6 L425.7 220.1 L430.1 221.9 L434.4 223.7 L438.5 225.7 L442.4 227.7 L446.1 229.8 L449.6 232.1 L453.0 234.5 L456.2 237.0 L459.2 239.7 L462.0 242.3 L464.6 244.7 L467.1 246.8 L469.5 248.7 L471.8 250.3 L474.0 251.7 L476.2 253.1 L478.3 254.5 L480.4 256.0 L482.3 257.4 L484.2 258.9 L486.1 260.4 L487.9 261.9 L489.6 263.4 L491.3 264.9 L493.0 266.3 L494.7 267.7 L496.4 269.1 L498.0 270.4 L499.6 271.8 L501.2 273.3 L502.8 274.7 L504.4 276.1 L505.9 277.6 L507.4 279.2 L508.8 280.7 L510.3 282.3 L511.8 283.8 L513.3 285.4 L515.0 286.9 L516.7 288.4 L518.5 289.9 L520.5 291.5 L522.5 293.1 L524.5 294.7 L526.4 296.6 L528.1 298.5 L529.5 300.6 L530.5 302.9 L531.1 305.3 L531.6 307.7 L532.0 310.2 L532.4 312.6 L532.7 315.1 L532.7 317.5Z" fill="#ffff00"/>
<path d="M530.6 320.0 L530.6 322.4 L530.4 324.8 L529.9 327.1 L529.2 329.4 L528.2 331.7 L526.8 333.8 L525.1 335.7 L523.2 337.6 L521.3 339.3 L519.2 340.8 L517.2 342.3 L515.2 343.7 L513.2 345.0 L511.3 346.2 L509.5 347.4 L507.7 348.6 L506.0 349.7 L504.4 350.8 L502.8 351.9 L501.3 353.0 L499.8 354.0 L498.3 355.1 L496.8 356.1 L495.3 357.0 L493.8 357.9 L492.3 358.8 L490.7 359.6 L489.2 360.3 L487.6 360.9 L486.0 361.6 L484.4 362.2 L482.9 362.8 L481.4 363.5 L479.8 364.1 L478.3 364.8 L476.8 365.5 L475.2 366.1 L473.7 366.8 L472.1 367.5 L470.5 368.2 L468.9 368.9 L467.2 369.6 L465.5 370.4 L463.8 371.1 L462.0 371.9 L460.2 372.7 L458.2 373.7 L456.2 375.0 L454.0 376.7 L451.7 378.4 L449.5 378.8 L447.5 378.2 L445.6 377.2 L443.8 376.1 L441.9 375.1 L440.0 374.4 L438.1 373.7 L436.2 373.0 L434.2 372.2 L432.4 371.4 L430.5 370.5 L428.6 369.5 L426.7 368.6 L424.9 367.5 L423.0 366.4 L421.2 365.3 L419.4 364.1 L417.7 362.8 L415.9 361.5 L414.1 360.2 L412.2 358.9 L410.4 357.5 L408.4 356.1 L406.4 354.7 L404.4 353.3 L402.2 351.8 L400.0 350.2 L397.7 348.6 L395.2 347.0 L392.6 345.3 L389.9 343.4 L387.0 341.5 L384.1 339.4 L381.1 337.2 L378.0 334.8 L374.8 332.3 L371.3 329.5 L367.7 326.6 L364.0 323.4 L360.2 320.0 L356.5 316.3 L352.9 312.4 L349.4 308.2 L346.1 303.7 L343.0 299.0 L340.4 294.1 L338.6 289.2 L337.8 284.4 L337.6 279.6 L337.6 274.7 L337.8 269.8 L338.3 264.9 L340.0 260.5 L342.7 256.6 L345.8 252.9 L349.1 249.4 L352.5 246.2 L356.1 243.1 L359.8 240.1 L363.5 237.4 L367.3 234.7 L371.2 232.3 L375.2 230.2 L379.4 228.2 L383.6 226.5 L387.8 225.1 L392.1 223.8 L396.4 222.7 L400.7 221.9 L405.0 221.4 L409.5 221.2 L414.0 221.6 L418.6 222.4 L423.1 223.6 L427.5 225.2 L431.8 226.9 L435.9 228.8 L439.8 230.8 L443.5 232.8 L447.0 234.9 L450.4 237.1 L453.5 239.5 L456.5 241.9 L459.4 244.4 L462.0 246.8 L464.5 249.1 L466.8 251.1 L469.1 252.9 L471.2 254.4 L473.3 255.7 L475.4 257.1 L477.4 258.4 L479.3 259.7 L481.1 261.1 L482.9 262.5 L484.7 263.9 L486.4 265.3 L488.0 266.6 L489.7 268.0 L491.3 269.3 L492.9 270.6 L494.4 271.9 L496.0 273.3 L497.5 274.6 L499.0 275.9 L500.5 277.3 L501.9 278.7 L503.3 280.1 L504.7 281.5 L506.1 283.0 L507.5 284.5 L508.9 285.9 L510.3 287.4 L511.8 288.9 L513.4 290.3 L515.1 291.7 L516.9 293.2 L518.8 294.7 L520.6 296.3 L522.3 298.1 L523.8 299.9 L525.0 301.9 L526.0 304.0 L526.7 306.2 L527.4 308.5 L528.1 310.7 L528.9 313.0 L529.8 315.3 L530.3 317.6Z" fill="#ffcc00"/>
<path d="M528.6 320.0 L528.5 322.3 L528.3 324.6 L527.8 326.9 L527.1 329.2 L526.0 331.3 L524.5 333.3 L522.7 335.1 L520.8 336.9 L518.9 338.5 L517.0 340.0 L515.1 341.4 L513.2 342.8 L511.3 344.1 L509.5 345.3 L507.8 346.4 L506.1 347.5 L504.5 348.6 L502.9 349.7 L501.4 350.8 L499.9 351.8 L498.4 352.8 L497.0 353.8 L495.6 354.8 L494.2 355.8 L492.8 356.7 L491.4 357.6 L489.9 358.4 L488.5 359.2 L486.9 359.9 L485.4 360.5 L483.9 361.1 L482.4 361.7 L480.9 362.4 L479.4 363.0 L477.9 363.7 L476.4 364.3 L474.9 365.0 L473.4 365.6 L471.8 366.3 L470.3 367.0 L468.7 367.7 L467.1 368.4 L465.4 369.2 L463.7 369.9 L462.0 370.7 L460.2 371.5 L458.3 372.4 L456.4 373.4 L454.3 374.8 L452.1 376.1 L450.0 376.3 L448.1 375.6 L446.3 374.6 L444.6 373.5 L442.9 372.4 L441.2 371.5 L439.4 370.7 L437.7 369.9 L436.0 369.0 L434.3 368.0 L432.6 367.1 L430.9 366.1 L429.2 365.2 L427.4 364.2 L425.7 363.2 L424.0 362.2 L422.3 361.1 L420.7 359.9 L419.0 358.7 L417.3 357.5 L415.6 356.2 L413.9 354.9 L412.1 353.6 L410.3 352.3 L408.4 350.9 L406.5 349.5 L404.4 348.1 L402.2 346.6 L399.9 345.1 L397.5 343.5 L394.9 341.8 L392.2 340.0 L389.5 338.1 L386.6 336.0 L383.7 333.8 L380.5 331.4 L377.2 328.9 L373.8 326.2 L370.2 323.2 L366.5 320.0 L362.8 316.5 L359.3 312.8 L355.8 308.8 L352.4 304.6 L349.3 300.1 L346.5 295.5 L344.5 290.7 L343.4 286.0 L342.8 281.3 L342.6 276.5 L342.5 271.7 L342.9 267.0 L344.4 262.6 L346.9 258.8 L349.8 255.2 L352.9 251.8 L356.3 248.7 L359.8 245.8 L363.4 243.0 L367.1 240.4 L370.9 237.9 L374.7 235.7 L378.7 233.7 L382.7 231.9 L386.8 230.4 L390.9 229.1 L395.1 227.9 L399.3 227.0 L403.4 226.3 L407.7 225.9 L411.9 225.9 L416.3 226.3 L420.7 227.1 L425.0 228.4 L429.2 229.9 L433.3 231.6 L437.2 233.5 L440.9 235.4 L444.4 237.4 L447.8 239.4 L451.0 241.5 L454.0 243.8 L456.8 246.1 L459.5 248.5 L462.0 250.8 L464.3 252.9 L466.6 254.8 L468.7 256.4 L470.7 257.9 L472.7 259.1 L474.7 260.4 L476.6 261.6 L478.4 262.8 L480.2 264.1 L481.9 265.3 L483.6 266.6 L485.2 267.9 L486.8 269.1 L488.4 270.4 L489.9 271.6 L491.5 272.9 L493.0 274.1 L494.5 275.3 L495.9 276.6 L497.4 277.8 L498.8 279.1 L500.2 280.5 L501.6 281.8 L502.9 283.2 L504.2 284.6 L505.5 286.0 L506.9 287.4 L508.2 288.8 L509.7 290.2 L511.2 291.6 L512.9 293.0 L514.6 294.4 L516.4 295.8 L518.1 297.3 L519.8 299.0 L521.4 300.7 L522.7 302.6 L523.7 304.6 L524.6 306.7 L525.4 308.8 L526.3 311.0 L527.2 313.1 L528.0 315.4 L528.5 317.7Z" fill="#ff9900"/>
<path d="M527.0 320.0 L527.0 322.3 L526.8 324.5 L526.3 326.8 L525.5 328.9 L524.2 331.0 L522.6 332.9 L520.7 334.6 L518.8 336.3 L516.8 337.8 L514.8 339.2 L512.8 340.5 L510.9 341.8 L509.1 343.0 L507.3 344.1 L505.5 345.1 L503.9 346.2 L502.3 347.2 L500.8 348.2 L499.4 349.2 L498.0 350.2 L496.6 351.2 L495.3 352.1 L493.9 353.1 L492.6 354.0 L491.2 354.8 L489.8 355.6 L488.5 356.4 L487.1 357.2 L485.7 357.9 L484.3 358.6 L482.9 359.3 L481.5 360.0 L480.1 360.7 L478.7 361.4 L477.3 362.1 L475.9 362.8 L474.5 363.5 L473.0 364.2 L471.5 364.9 L470.0 365.6 L468.5 366.3 L466.9 367.0 L465.3 367.7 L463.7 368.3 L462.0 369.0 L460.3 369.7 L458.5 370.5 L456.6 371.4 L454.6 372.7 L452.5 373.8 L450.5 373.9 L448.7 373.2 L447.0 372.2 L445.4 371.1 L443.8 370.1 L442.1 369.2 L440.4 368.4 L438.8 367.6 L437.2 366.6 L435.6 365.7 L434.1 364.7 L432.5 363.7 L430.9 362.8 L429.3 361.8 L427.7 360.9 L426.1 359.9 L424.5 358.8 L423.0 357.7 L421.4 356.6 L419.8 355.4 L418.2 354.2 L416.6 353.0 L415.0 351.7 L413.3 350.4 L411.6 349.1 L409.8 347.8 L407.8 346.4 L405.8 345.0 L403.6 343.6 L401.4 342.1 L399.0 340.5 L396.5 338.8 L393.9 337.0 L391.3 335.0 L388.6 333.0 L385.6 330.7 L382.5 328.4 L379.3 325.8 L375.8 323.0 L372.3 320.0 L368.8 316.7 L365.3 313.2 L361.9 309.5 L358.6 305.5 L355.4 301.2 L352.6 296.7 L350.4 292.2 L349.1 287.6 L348.3 283.1 L347.7 278.4 L347.4 273.7 L347.6 269.1 L348.9 264.8 L351.2 261.1 L353.9 257.6 L356.9 254.3 L360.1 251.3 L363.6 248.5 L367.2 245.9 L370.8 243.5 L374.4 241.2 L378.2 239.1 L382.0 237.2 L386.0 235.6 L390.0 234.2 L394.0 233.0 L398.0 231.9 L402.1 231.1 L406.1 230.6 L410.2 230.3 L414.3 230.3 L418.5 230.8 L422.7 231.7 L426.8 232.9 L430.9 234.5 L434.8 236.1 L438.5 238.0 L442.0 239.8 L445.4 241.7 L448.5 243.7 L451.6 245.8 L454.4 247.9 L457.1 250.1 L459.6 252.3 L462.0 254.5 L464.2 256.5 L466.3 258.3 L468.3 259.8 L470.3 261.2 L472.2 262.4 L474.0 263.5 L475.8 264.7 L477.5 265.8 L479.2 267.0 L480.9 268.1 L482.5 269.3 L484.0 270.5 L485.6 271.7 L487.1 272.8 L488.6 274.0 L490.0 275.1 L491.5 276.3 L492.9 277.5 L494.3 278.6 L495.7 279.9 L497.0 281.1 L498.4 282.3 L499.7 283.6 L500.9 284.9 L502.2 286.3 L503.5 287.6 L504.7 289.0 L506.0 290.3 L507.4 291.6 L508.8 293.0 L510.3 294.3 L511.9 295.6 L513.6 297.0 L515.2 298.5 L516.8 300.1 L518.3 301.7 L519.5 303.5 L520.6 305.4 L521.5 307.3 L522.5 309.3 L523.6 311.3 L524.8 313.4 L525.8 315.5 L526.6 317.7Z" fill="#ff6600"/>
<path d="M524.3 320.0 L524.2 322.2 L523.9 324.3 L523.4 326.4 L522.5 328.5 L521.2 330.4 L519.6 332.3 L517.8 333.9 L515.9 335.5 L514.0 336.9 L512.1 338.2 L510.2 339.5 L508.3 340.6 L506.5 341.7 L504.8 342.8 L503.1 343.8 L501.6 344.7 L500.1 345.7 L498.7 346.6 L497.3 347.6 L496.0 348.5 L494.7 349.4 L493.4 350.3 L492.2 351.2 L490.9 352.1 L489.6 352.9 L488.3 353.6 L487.0 354.4 L485.6 355.1 L484.3 355.7 L483.0 356.4 L481.7 357.0 L480.4 357.7 L479.1 358.4 L477.8 359.1 L476.5 359.8 L475.1 360.5 L473.8 361.2 L472.4 361.9 L471.1 362.6 L469.6 363.3 L468.2 364.0 L466.7 364.7 L465.2 365.4 L463.6 366.1 L462.0 366.7 L460.3 367.4 L458.6 368.2 L456.8 369.1 L454.9 370.3 L452.9 371.3 L451.1 371.4 L449.3 370.8 L447.7 369.9 L446.1 368.9 L444.6 367.9 L443.0 367.0 L441.4 366.2 L439.9 365.3 L438.4 364.4 L436.9 363.4 L435.5 362.4 L434.0 361.5 L432.6 360.5 L431.1 359.6 L429.6 358.6 L428.1 357.6 L426.7 356.6 L425.2 355.5 L423.7 354.5 L422.3 353.3 L420.8 352.2 L419.3 351.0 L417.8 349.8 L416.3 348.6 L414.7 347.3 L413.0 346.1 L411.2 344.8 L409.3 343.5 L407.3 342.1 L405.2 340.7 L403.0 339.2 L400.7 337.6 L398.3 335.9 L395.9 334.1 L393.3 332.1 L390.6 330.0 L387.8 327.8 L384.8 325.4 L381.6 322.8 L378.4 320.0 L375.1 317.0 L371.8 313.7 L368.5 310.2 L365.3 306.4 L362.3 302.4 L359.5 298.2 L357.3 293.9 L355.7 289.5 L354.7 285.1 L353.9 280.6 L353.3 276.1 L353.2 271.6 L354.2 267.4 L356.0 263.7 L358.3 260.1 L361.0 256.9 L364.1 254.0 L367.5 251.3 L370.9 248.8 L374.3 246.4 L377.9 244.2 L381.5 242.2 L385.2 240.5 L389.1 239.0 L393.0 237.7 L396.9 236.7 L400.9 235.8 L404.8 235.2 L408.7 234.7 L412.7 234.6 L416.7 234.7 L420.7 235.3 L424.7 236.2 L428.7 237.5 L432.5 239.0 L436.2 240.6 L439.7 242.4 L443.1 244.2 L446.3 246.1 L449.3 248.0 L452.2 249.9 L454.9 252.0 L457.4 254.1 L459.8 256.2 L462.0 258.3 L464.1 260.2 L466.1 261.8 L468.0 263.3 L469.8 264.5 L471.6 265.6 L473.3 266.7 L475.0 267.7 L476.7 268.8 L478.3 269.9 L479.9 270.9 L481.4 272.0 L482.9 273.1 L484.4 274.2 L485.8 275.2 L487.2 276.3 L488.6 277.4 L490.0 278.5 L491.4 279.6 L492.7 280.7 L494.0 281.9 L495.3 283.0 L496.5 284.2 L497.8 285.5 L499.0 286.7 L500.2 288.0 L501.4 289.3 L502.6 290.5 L503.8 291.8 L505.1 293.1 L506.4 294.4 L507.8 295.6 L509.3 296.9 L510.9 298.2 L512.4 299.6 L513.9 301.1 L515.3 302.7 L516.6 304.3 L517.7 306.1 L518.7 307.9 L519.8 309.8 L521.0 311.7 L522.2 313.7 L523.2 315.7 L523.9 317.8Z" fill="#ff3300"/>
<path d="M520.7 320.0 L520.5 322.0 L520.1 324.1 L519.5 326.0 L518.8 328.0 L517.8 329.8 L516.5 331.6 L515.0 333.2 L513.5 334.8 L511.9 336.2 L510.3 337.6 L508.7 338.9 L507.2 340.1 L505.4 341.2 L503.7 342.2 L502.1 343.2 L500.6 344.1 L499.1 345.0 L497.7 345.9 L496.4 346.8 L495.1 347.7 L493.8 348.6 L492.6 349.5 L491.3 350.4 L490.1 351.2 L488.8 352.0 L487.5 352.7 L486.3 353.4 L485.0 354.1 L483.7 354.7 L482.4 355.3 L481.1 356.0 L479.9 356.6 L478.6 357.3 L477.3 357.9 L476.1 358.6 L474.8 359.3 L473.4 359.9 L472.1 360.5 L470.7 361.0 L469.3 361.6 L467.9 362.1 L466.5 362.7 L465.0 363.3 L463.5 363.8 L462.0 364.3 L460.4 364.9 L458.8 365.5 L457.1 366.3 L455.3 367.4 L453.5 368.5 L451.6 368.7 L450.0 368.2 L448.4 367.4 L446.9 366.5 L445.4 365.5 L444.0 364.6 L442.5 363.8 L441.1 362.9 L439.7 361.9 L438.3 361.0 L437.0 360.0 L435.7 359.0 L434.3 358.1 L432.9 357.2 L431.6 356.2 L430.2 355.3 L428.9 354.3 L427.5 353.3 L426.2 352.2 L424.9 351.1 L423.6 350.0 L422.2 348.9 L420.9 347.7 L419.5 346.6 L418.0 345.4 L416.5 344.2 L414.8 343.0 L413.0 341.8 L411.1 340.6 L409.1 339.2 L407.0 337.9 L404.9 336.4 L402.6 334.8 L400.3 333.1 L397.9 331.3 L395.4 329.4 L392.8 327.3 L389.9 325.0 L387.0 322.6 L383.9 320.0 L380.8 317.2 L377.7 314.1 L374.6 310.8 L371.4 307.3 L368.4 303.5 L365.6 299.5 L363.3 295.4 L361.6 291.2 L360.3 287.0 L359.2 282.6 L358.4 278.1 L358.1 273.7 L358.7 269.6 L360.4 266.0 L362.4 262.5 L364.9 259.3 L367.9 256.5 L371.2 254.1 L374.7 251.8 L378.3 249.7 L381.9 247.9 L385.6 246.3 L389.5 244.9 L393.4 243.8 L397.4 243.0 L401.3 242.3 L405.2 241.8 L409.0 241.5 L412.8 241.3 L416.6 241.4 L420.4 241.8 L424.2 242.4 L427.9 243.4 L431.5 244.6 L435.1 246.0 L438.4 247.5 L441.7 249.1 L444.7 250.7 L447.6 252.3 L450.4 254.0 L453.0 255.7 L455.4 257.4 L457.8 259.3 L459.9 261.1 L462.0 262.9 L463.9 264.5 L465.8 266.0 L467.5 267.2 L469.3 268.3 L470.9 269.3 L472.6 270.3 L474.2 271.2 L475.7 272.2 L477.2 273.1 L478.7 274.0 L480.2 275.0 L481.6 275.9 L483.0 276.9 L484.4 277.8 L485.8 278.8 L487.2 279.7 L488.5 280.7 L489.8 281.7 L491.1 282.8 L492.3 283.8 L493.6 284.9 L494.8 286.0 L496.0 287.2 L497.1 288.4 L498.3 289.6 L499.4 290.8 L500.5 292.0 L501.7 293.2 L502.9 294.4 L504.2 295.6 L505.6 296.8 L507.0 298.1 L508.5 299.3 L509.9 300.6 L511.4 302.0 L512.8 303.5 L514.0 305.1 L515.2 306.7 L516.2 308.5 L517.3 310.2 L518.4 312.1 L519.4 314.0 L520.2 315.9 L520.7 318.0Z" fill="#ff0000"/>
<path d="M517.0 320.0 L516.7 321.9 L516.3 323.8 L515.7 325.6 L515.0 327.4 L514.0 329.2 L512.7 330.8 L511.3 332.3 L509.9 333.7 L508.4 335.1 L506.9 336.3 L505.4 337.5 L503.9 338.6 L502.4 339.7 L501.0 340.7 L499.5 341.7 L498.1 342.6 L496.8 343.5 L495.4 344.3 L494.1 345.1 L492.8 345.9 L491.6 346.6 L490.3 347.4 L489.1 348.1 L487.9 348.8 L486.7 349.5 L485.5 350.1 L484.3 350.7 L483.1 351.4 L482.0 351.9 L480.8 352.5 L479.6 353.1 L478.4 353.6 L477.2 354.2 L476.0 354.8 L474.9 355.3 L473.7 355.9 L472.5 356.5 L471.2 357.1 L470.0 357.6 L468.7 358.2 L467.5 358.8 L466.1 359.4 L464.8 360.0 L463.4 360.6 L462.0 361.1 L460.5 361.6 L459.1 362.1 L457.5 362.8 L455.9 363.7 L454.1 364.6 L452.4 364.9 L450.9 364.6 L449.4 363.9 L448.0 363.1 L446.6 362.2 L445.3 361.4 L444.0 360.5 L442.7 359.6 L441.4 358.7 L440.2 357.7 L439.0 356.8 L437.8 355.9 L436.5 355.0 L435.3 354.2 L434.1 353.3 L432.8 352.4 L431.6 351.5 L430.4 350.5 L429.2 349.5 L428.0 348.5 L426.8 347.5 L425.7 346.4 L424.5 345.3 L423.2 344.2 L421.9 343.2 L420.5 342.1 L418.9 341.0 L417.2 339.9 L415.4 338.8 L413.5 337.7 L411.5 336.4 L409.4 335.1 L407.2 333.7 L405.0 332.1 L402.7 330.5 L400.3 328.7 L397.9 326.7 L395.3 324.7 L392.6 322.4 L389.8 320.0 L386.9 317.4 L384.1 314.6 L381.2 311.5 L378.2 308.2 L375.3 304.7 L372.6 301.0 L370.3 297.1 L368.4 293.2 L366.9 289.1 L365.5 284.9 L364.4 280.5 L363.7 276.2 L364.0 272.2 L365.2 268.5 L366.8 265.1 L369.1 261.9 L371.9 259.2 L375.2 256.9 L378.7 254.9 L382.2 253.0 L385.8 251.4 L389.5 250.0 L393.3 248.9 L397.2 248.1 L401.1 247.4 L405.0 247.0 L408.8 246.7 L412.5 246.6 L416.2 246.7 L419.8 246.9 L423.4 247.4 L427.0 248.2 L430.5 249.3 L433.9 250.5 L437.2 251.9 L440.4 253.4 L443.4 255.0 L446.2 256.5 L448.8 258.1 L451.4 259.7 L453.8 261.4 L456.0 263.0 L458.1 264.7 L460.1 266.4 L462.0 268.0 L463.8 269.4 L465.4 270.7 L467.1 271.8 L468.6 272.7 L470.2 273.6 L471.7 274.4 L473.2 275.2 L474.6 276.0 L476.0 276.8 L477.4 277.6 L478.8 278.4 L480.2 279.2 L481.5 280.0 L482.8 280.8 L484.1 281.6 L485.4 282.5 L486.7 283.4 L487.9 284.3 L489.1 285.3 L490.3 286.3 L491.5 287.3 L492.6 288.3 L493.7 289.4 L494.8 290.4 L495.9 291.5 L497.0 292.6 L498.1 293.8 L499.3 294.9 L500.4 296.0 L501.7 297.1 L503.0 298.2 L504.4 299.3 L505.9 300.5 L507.3 301.7 L508.8 303.0 L510.2 304.3 L511.5 305.8 L512.6 307.4 L513.6 309.0 L514.6 310.7 L515.5 312.5 L516.3 314.3 L516.8 316.2 L517.0 318.1Z" fill="#cc0066"/>
<path d="M513.2 320.0 L512.9 321.8 L512.4 323.5 L511.8 325.2 L511.0 326.9 L510.0 328.5 L508.8 329.9 L507.4 331.3 L506.0 332.6 L504.6 333.9 L503.2 335.0 L501.8 336.1 L500.4 337.1 L499.0 338.1 L497.7 339.0 L496.4 339.8 L495.1 340.7 L493.8 341.4 L492.6 342.2 L491.4 342.9 L490.2 343.6 L489.0 344.3 L487.9 345.0 L486.8 345.7 L485.7 346.3 L484.6 347.0 L483.6 347.6 L482.5 348.3 L481.5 348.9 L480.4 349.5 L479.4 350.1 L478.3 350.7 L477.3 351.3 L476.2 352.0 L475.2 352.6 L474.1 353.2 L473.0 353.8 L471.9 354.5 L470.8 355.1 L469.6 355.8 L468.4 356.4 L467.2 357.0 L466.0 357.6 L464.7 358.2 L463.4 358.7 L462.0 359.1 L460.6 359.5 L459.2 360.0 L457.7 360.5 L456.2 361.3 L454.6 362.0 L453.1 362.1 L451.6 361.7 L450.2 361.0 L448.9 360.2 L447.7 359.4 L446.5 358.5 L445.3 357.6 L444.1 356.7 L442.9 355.9 L441.8 355.0 L440.7 354.1 L439.6 353.3 L438.4 352.5 L437.3 351.7 L436.1 350.9 L434.9 350.1 L433.8 349.2 L432.7 348.3 L431.6 347.4 L430.6 346.4 L429.5 345.4 L428.5 344.4 L427.4 343.3 L426.4 342.3 L425.2 341.3 L423.9 340.3 L422.5 339.3 L420.9 338.3 L419.3 337.3 L417.5 336.2 L415.6 335.1 L413.6 333.9 L411.6 332.6 L409.5 331.2 L407.3 329.6 L405.1 328.0 L402.8 326.2 L400.5 324.3 L398.0 322.2 L395.5 320.0 L393.0 317.6 L390.4 315.0 L387.7 312.2 L385.0 309.2 L382.4 306.0 L379.8 302.5 L377.5 298.9 L375.6 295.2 L373.9 291.4 L372.3 287.3 L370.8 283.2 L369.9 279.0 L369.8 275.0 L370.5 271.4 L371.8 267.9 L373.8 264.9 L376.6 262.4 L379.8 260.3 L383.3 258.5 L386.8 256.9 L390.4 255.5 L394.1 254.4 L397.9 253.6 L401.7 253.1 L405.6 252.7 L409.3 252.6 L413.0 252.6 L416.6 252.7 L420.2 253.0 L423.6 253.5 L427.0 254.2 L430.4 255.1 L433.6 256.3 L436.8 257.6 L439.8 259.0 L442.6 260.4 L445.3 261.9 L447.9 263.3 L450.3 264.8 L452.5 266.2 L454.6 267.7 L456.7 269.1 L458.5 270.5 L460.3 271.9 L462.0 273.2 L463.6 274.4 L465.1 275.5 L466.6 276.4 L468.0 277.2 L469.4 278.0 L470.8 278.7 L472.1 279.3 L473.5 280.0 L474.8 280.6 L476.1 281.3 L477.4 281.9 L478.7 282.6 L479.9 283.3 L481.2 284.0 L482.4 284.7 L483.6 285.5 L484.8 286.3 L485.9 287.1 L487.1 287.9 L488.2 288.8 L489.3 289.7 L490.3 290.7 L491.4 291.6 L492.4 292.6 L493.4 293.6 L494.5 294.6 L495.5 295.7 L496.6 296.7 L497.7 297.7 L498.9 298.7 L500.1 299.7 L501.4 300.8 L502.7 301.9 L504.1 303.0 L505.5 304.2 L506.8 305.4 L508.1 306.8 L509.2 308.2 L510.2 309.7 L511.2 311.3 L512.0 313.0 L512.7 314.7 L513.1 316.4 L513.3 318.2Z" fill="#cc00cc"/>
<path d="M509.8 320.0 L509.4 321.7 L508.8 323.3 L508.1 324.8 L507.3 326.4 L506.2 327.8 L505.1 329.2 L503.8 330.4 L502.5 331.6 L501.1 332.7 L499.8 333.8 L498.5 334.7 L497.2 335.7 L495.9 336.5 L494.6 337.4 L493.4 338.1 L492.2 338.9 L491.0 339.6 L489.9 340.3 L488.8 340.9 L487.7 341.5 L486.6 342.1 L485.6 342.8 L484.5 343.3 L483.6 343.9 L482.6 344.5 L481.6 345.1 L480.7 345.7 L479.7 346.3 L478.8 346.8 L477.8 347.4 L476.9 348.0 L476.0 348.6 L475.0 349.2 L474.1 349.9 L473.1 350.5 L472.1 351.2 L471.1 351.8 L470.1 352.5 L469.0 353.1 L468.0 353.8 L466.8 354.5 L465.7 355.1 L464.5 355.6 L463.3 356.1 L462.0 356.5 L460.7 356.8 L459.4 357.2 L458.0 357.6 L456.6 358.1 L455.2 358.7 L453.7 358.8 L452.4 358.5 L451.1 358.0 L449.9 357.3 L448.7 356.4 L447.6 355.5 L446.6 354.6 L445.6 353.7 L444.5 352.9 L443.5 352.1 L442.5 351.3 L441.4 350.5 L440.3 349.8 L439.2 349.1 L438.1 348.4 L437.0 347.7 L436.0 346.9 L434.9 346.1 L433.9 345.3 L433.0 344.4 L432.0 343.4 L431.1 342.4 L430.2 341.4 L429.3 340.4 L428.3 339.4 L427.2 338.5 L426.0 337.6 L424.6 336.6 L423.1 335.7 L421.5 334.7 L419.9 333.7 L418.1 332.6 L416.4 331.4 L414.5 330.1 L412.7 328.7 L410.8 327.2 L408.9 325.6 L406.9 323.9 L404.9 322.0 L402.8 320.0 L400.7 317.9 L398.6 315.6 L396.4 313.1 L394.1 310.5 L391.8 307.6 L389.5 304.6 L387.4 301.4 L385.4 298.0 L383.5 294.5 L381.5 290.7 L379.7 286.7 L378.5 282.8 L378.1 279.1 L378.3 275.5 L379.1 272.1 L380.6 269.2 L383.1 266.8 L386.2 265.0 L389.6 263.4 L393.0 262.1 L396.6 261.1 L400.2 260.3 L403.9 259.8 L407.6 259.6 L411.3 259.5 L414.8 259.6 L418.3 259.9 L421.7 260.2 L425.0 260.7 L428.1 261.4 L431.2 262.1 L434.2 263.1 L437.1 264.2 L439.9 265.4 L442.6 266.6 L445.1 267.9 L447.4 269.1 L449.6 270.3 L451.7 271.5 L453.7 272.7 L455.5 273.9 L457.3 275.0 L458.9 276.2 L460.5 277.3 L462.0 278.4 L463.4 279.4 L464.8 280.3 L466.1 281.1 L467.4 281.8 L468.6 282.5 L469.9 283.1 L471.1 283.6 L472.3 284.2 L473.5 284.7 L474.7 285.2 L475.8 285.8 L477.0 286.3 L478.2 286.8 L479.3 287.4 L480.5 288.0 L481.6 288.7 L482.7 289.4 L483.7 290.1 L484.8 290.8 L485.8 291.6 L486.8 292.4 L487.8 293.3 L488.8 294.1 L489.8 295.0 L490.7 295.9 L491.7 296.8 L492.6 297.7 L493.6 298.7 L494.7 299.6 L495.8 300.5 L496.9 301.5 L498.1 302.4 L499.3 303.4 L500.6 304.4 L501.9 305.5 L503.3 306.6 L504.6 307.8 L505.8 309.1 L506.9 310.5 L507.9 311.9 L508.7 313.4 L509.4 315.0 L509.8 316.7 L509.9 318.3Z" fill="#cc00ff"/>
<path d="M504.6 320.0 L504.3 321.5 L503.8 322.9 L503.1 324.3 L502.3 325.7 L501.4 327.0 L500.4 328.2 L499.3 329.3 L498.2 330.4 L497.1 331.4 L495.9 332.4 L494.8 333.3 L493.7 334.1 L492.5 334.9 L491.4 335.6 L490.3 336.4 L489.2 337.0 L488.2 337.7 L487.2 338.3 L486.2 338.9 L485.2 339.5 L484.2 340.0 L483.3 340.6 L482.4 341.1 L481.5 341.6 L480.6 342.2 L479.8 342.7 L478.9 343.3 L478.1 343.8 L477.2 344.4 L476.4 344.9 L475.6 345.5 L474.7 346.1 L473.9 346.7 L473.0 347.3 L472.2 347.9 L471.3 348.5 L470.4 349.2 L469.4 349.9 L468.5 350.5 L467.5 351.1 L466.5 351.8 L465.4 352.3 L464.3 352.8 L463.2 353.3 L462.0 353.6 L460.8 353.8 L459.6 354.0 L458.4 354.1 L457.2 354.1 L456.0 354.1 L454.8 354.0 L453.6 353.8 L452.4 353.6 L451.2 353.1 L450.1 352.6 L449.1 351.9 L448.1 351.2 L447.2 350.4 L446.3 349.6 L445.3 348.9 L444.4 348.2 L443.5 347.5 L442.5 346.9 L441.5 346.2 L440.5 345.6 L439.6 344.9 L438.6 344.2 L437.7 343.5 L436.7 342.7 L435.9 341.9 L435.0 341.1 L434.1 340.2 L433.3 339.4 L432.4 338.5 L431.5 337.6 L430.4 336.8 L429.4 335.9 L428.2 335.1 L426.9 334.2 L425.6 333.3 L424.2 332.3 L422.7 331.3 L421.3 330.1 L419.8 329.0 L418.4 327.7 L416.9 326.3 L415.5 324.9 L414.0 323.4 L412.6 321.7 L411.2 320.0 L409.8 318.2 L408.4 316.3 L407.0 314.2 L405.5 312.1 L404.1 309.8 L402.6 307.4 L401.1 304.8 L399.6 302.1 L398.0 299.2 L396.3 296.1 L394.7 292.8 L393.3 289.4 L392.3 286.0 L391.8 282.7 L391.9 279.5 L393.0 276.9 L394.9 274.8 L397.5 273.2 L400.5 271.9 L403.6 271.0 L406.8 270.3 L410.0 269.8 L413.2 269.5 L416.4 269.4 L419.5 269.4 L422.5 269.5 L425.4 269.7 L428.3 270.0 L431.0 270.4 L433.7 270.9 L436.2 271.5 L438.7 272.1 L441.0 272.8 L443.2 273.6 L445.4 274.3 L447.4 275.1 L449.4 275.9 L451.2 276.7 L453.0 277.5 L454.6 278.3 L456.2 279.0 L457.8 279.8 L459.2 280.6 L460.6 281.3 L462.0 282.1 L463.3 282.8 L464.6 283.5 L465.8 284.1 L467.0 284.7 L468.1 285.3 L469.2 285.9 L470.4 286.4 L471.5 286.9 L472.6 287.4 L473.7 287.9 L474.8 288.4 L475.8 289.0 L476.9 289.5 L477.9 290.0 L479.0 290.6 L480.0 291.2 L481.0 291.9 L482.0 292.5 L482.9 293.2 L483.9 293.9 L484.8 294.6 L485.7 295.4 L486.7 296.2 L487.5 297.0 L488.4 297.8 L489.3 298.7 L490.1 299.6 L491.0 300.4 L491.9 301.3 L492.8 302.2 L493.7 303.2 L494.6 304.1 L495.6 305.0 L496.7 306.0 L497.7 307.0 L498.8 308.0 L500.0 309.1 L501.0 310.3 L502.0 311.5 L503.0 312.8 L503.7 314.1 L504.3 315.6 L504.7 317.0 L504.8 318.5Z" fill="#9900ff"/>
<path d="M498.8 320.0 L498.6 321.3 L498.1 322.5 L497.5 323.7 L496.8 324.9 L496.0 326.0 L495.1 327.0 L494.2 328.0 L493.2 328.9 L492.2 329.8 L491.2 330.6 L490.1 331.4 L489.1 332.1 L488.1 332.7 L487.1 333.3 L486.1 333.9 L485.1 334.4 L484.2 335.0 L483.3 335.4 L482.4 335.9 L481.5 336.4 L480.7 336.8 L479.9 337.2 L479.1 337.7 L478.3 338.1 L477.6 338.6 L476.9 339.0 L476.2 339.5 L475.5 340.0 L474.8 340.4 L474.1 341.0 L473.4 341.5 L472.7 342.0 L472.1 342.6 L471.4 343.2 L470.7 343.8 L469.9 344.4 L469.2 345.0 L468.4 345.6 L467.6 346.2 L466.7 346.8 L465.8 347.3 L464.9 347.8 L464.0 348.2 L463.0 348.5 L462.0 348.8 L461.0 349.0 L460.0 349.1 L458.9 349.1 L457.9 349.1 L456.9 349.1 L455.9 348.9 L454.8 348.7 L453.8 348.4 L452.8 348.2 L451.8 348.0 L450.7 348.0 L449.6 347.8 L448.5 347.6 L447.5 347.2 L446.6 346.7 L445.8 346.0 L445.0 345.2 L444.2 344.5 L443.5 343.7 L442.8 342.9 L442.0 342.2 L441.2 341.5 L440.3 340.9 L439.5 340.3 L438.6 339.7 L437.7 339.0 L436.8 338.3 L435.9 337.6 L435.0 336.9 L434.1 336.1 L433.3 335.3 L432.4 334.4 L431.5 333.6 L430.7 332.7 L429.7 331.7 L428.8 330.8 L427.9 329.8 L426.9 328.7 L426.0 327.7 L425.1 326.5 L424.1 325.3 L423.2 324.1 L422.3 322.8 L421.4 321.4 L420.5 320.0 L419.6 318.5 L418.7 317.0 L417.8 315.4 L416.9 313.7 L416.0 311.9 L415.2 310.1 L414.5 308.1 L413.7 306.2 L413.0 304.1 L412.3 301.9 L411.5 299.6 L410.7 297.2 L410.0 294.6 L409.5 292.1 L409.5 289.7 L410.1 287.6 L411.3 285.8 L413.0 284.4 L415.1 283.4 L417.5 282.6 L419.9 282.1 L422.4 281.7 L424.8 281.5 L427.2 281.3 L429.5 281.3 L431.8 281.4 L434.0 281.5 L436.2 281.8 L438.3 282.1 L440.3 282.5 L442.3 282.9 L444.2 283.4 L445.9 283.9 L447.6 284.4 L449.2 284.9 L450.7 285.3 L452.2 285.7 L453.5 286.1 L454.9 286.5 L456.2 286.8 L457.4 287.2 L458.6 287.6 L459.8 288.0 L460.9 288.4 L462.0 288.8 L463.1 289.2 L464.1 289.5 L465.2 289.9 L466.2 290.3 L467.2 290.6 L468.2 290.9 L469.2 291.2 L470.2 291.5 L471.2 291.8 L472.1 292.1 L473.1 292.5 L474.1 292.8 L475.0 293.2 L476.0 293.7 L476.9 294.1 L477.8 294.6 L478.7 295.2 L479.6 295.7 L480.5 296.3 L481.4 296.9 L482.2 297.6 L483.0 298.3 L483.8 299.0 L484.6 299.7 L485.3 300.4 L486.1 301.2 L486.8 302.0 L487.5 302.8 L488.3 303.6 L489.0 304.4 L489.8 305.2 L490.7 306.0 L491.6 306.8 L492.5 307.7 L493.4 308.6 L494.2 309.5 L495.1 310.5 L495.9 311.5 L496.7 312.6 L497.4 313.8 L498.0 314.9 L498.5 316.2 L498.8 317.4 L498.9 318.7Z" fill="#6600cc"/>
<path d="M490.8 320.0 L490.5 321.0 L490.1 322.0 L489.7 322.9 L489.2 323.8 L488.8 324.7 L488.2 325.6 L487.6 326.4 L487.0 327.2 L486.4 327.9 L485.7 328.6 L485.0 329.3 L484.4 330.0 L483.7 330.6 L483.0 331.2 L482.3 331.7 L481.6 332.3 L481.0 332.8 L480.3 333.3 L479.6 333.8 L479.0 334.2 L478.3 334.7 L477.7 335.2 L477.1 335.6 L476.4 336.0 L475.8 336.5 L475.2 336.9 L474.6 337.3 L474.0 337.7 L473.3 338.1 L472.7 338.5 L472.1 338.9 L471.4 339.3 L470.8 339.7 L470.1 340.1 L469.4 340.5 L468.8 340.8 L468.1 341.1 L467.3 341.4 L466.6 341.7 L465.9 341.9 L465.1 342.1 L464.3 342.3 L463.6 342.4 L462.8 342.5 L462.0 342.6 L461.2 342.7 L460.4 342.8 L459.6 342.8 L458.8 342.8 L458.0 342.8 L457.2 342.8 L456.4 342.6 L455.6 342.4 L454.8 342.0 L454.1 341.7 L453.4 341.4 L452.6 341.0 L451.9 340.7 L451.2 340.3 L450.5 340.0 L449.8 339.6 L449.0 339.2 L448.3 338.8 L447.6 338.4 L446.9 338.0 L446.2 337.5 L445.6 337.0 L444.9 336.5 L444.2 336.0 L443.5 335.5 L442.9 335.0 L442.2 334.4 L441.5 333.8 L440.9 333.2 L440.2 332.6 L439.5 331.9 L438.9 331.3 L438.2 330.6 L437.6 329.9 L436.9 329.1 L436.2 328.4 L435.6 327.6 L434.9 326.8 L434.2 325.9 L433.5 325.0 L432.8 324.1 L432.1 323.1 L431.4 322.1 L430.7 321.1 L429.9 320.0 L429.2 318.9 L428.5 317.7 L427.7 316.4 L427.1 315.1 L426.4 313.7 L425.8 312.3 L425.2 310.8 L424.8 309.3 L424.3 307.8 L424.0 306.2 L423.8 304.6 L424.0 303.1 L424.5 301.7 L425.2 300.5 L426.2 299.3 L427.3 298.3 L428.6 297.5 L430.0 296.7 L431.4 296.1 L432.9 295.6 L434.5 295.2 L436.0 294.9 L437.5 294.7 L439.1 294.5 L440.6 294.5 L442.1 294.5 L443.5 294.5 L444.9 294.6 L446.2 294.8 L447.5 294.9 L448.7 295.0 L449.9 295.1 L450.9 295.2 L452.0 295.2 L453.0 295.2 L453.9 295.2 L454.9 295.2 L455.8 295.2 L456.7 295.2 L457.6 295.2 L458.5 295.3 L459.4 295.4 L460.3 295.5 L461.1 295.6 L462.0 295.8 L462.8 296.0 L463.7 296.1 L464.5 296.3 L465.3 296.5 L466.1 296.7 L466.9 296.8 L467.7 297.0 L468.5 297.2 L469.4 297.4 L470.2 297.6 L471.0 297.8 L471.8 298.1 L472.6 298.3 L473.3 298.7 L474.1 299.0 L474.9 299.4 L475.7 299.7 L476.4 300.1 L477.2 300.6 L477.9 301.0 L478.6 301.5 L479.4 302.0 L480.1 302.5 L480.8 303.1 L481.5 303.6 L482.2 304.2 L482.9 304.8 L483.6 305.4 L484.3 306.0 L485.1 306.7 L485.8 307.3 L486.6 308.0 L487.3 308.7 L488.0 309.5 L488.7 310.3 L489.3 311.1 L489.9 312.0 L490.3 312.9 L490.7 313.9 L491.0 314.9 L491.1 315.9 L491.2 316.9 L491.2 318.0 L491.0 319.0Z" fill="#660099"/>
<path d="M484.0 320.0 L483.8 320.8 L483.5 321.5 L483.2 322.2 L482.9 322.9 L482.6 323.6 L482.3 324.3 L482.0 325.0 L481.7 325.7 L481.4 326.3 L481.1 326.9 L480.7 327.5 L480.3 328.1 L479.8 328.7 L479.3 329.2 L478.7 329.7 L478.2 330.1 L477.6 330.5 L476.9 330.8 L476.3 331.2 L475.6 331.4 L475.0 331.7 L474.4 331.9 L473.8 332.2 L473.2 332.4 L472.6 332.6 L472.0 332.8 L471.5 333.0 L470.9 333.3 L470.4 333.5 L469.9 333.7 L469.4 333.9 L468.9 334.2 L468.4 334.4 L467.9 334.6 L467.4 334.8 L466.9 335.1 L466.4 335.3 L465.9 335.5 L465.3 335.7 L464.8 335.9 L464.3 336.1 L463.7 336.2 L463.1 336.4 L462.6 336.5 L462.0 336.5 L461.4 336.5 L460.9 336.4 L460.3 336.3 L459.7 336.2 L459.2 336.1 L458.6 336.0 L458.0 335.9 L457.5 335.9 L456.9 335.8 L456.3 335.7 L455.7 335.6 L455.1 335.4 L454.5 335.3 L454.0 335.1 L453.4 334.9 L452.9 334.6 L452.3 334.3 L451.8 334.0 L451.3 333.7 L450.8 333.3 L450.3 333.0 L449.8 332.6 L449.4 332.2 L448.9 331.8 L448.4 331.4 L447.9 331.0 L447.4 330.6 L446.9 330.2 L446.5 329.7 L446.0 329.3 L445.5 328.8 L445.0 328.3 L444.5 327.8 L444.0 327.3 L443.5 326.7 L443.0 326.2 L442.5 325.6 L442.1 325.0 L441.6 324.3 L441.1 323.7 L440.7 323.0 L440.3 322.3 L439.9 321.5 L439.5 320.8 L439.1 320.0 L438.8 319.2 L438.6 318.4 L438.4 317.5 L438.2 316.7 L438.1 315.8 L438.1 314.9 L438.2 314.1 L438.4 313.2 L438.8 312.5 L439.4 311.8 L440.1 311.2 L440.9 310.6 L441.6 310.0 L442.3 309.5 L442.9 309.0 L443.6 308.5 L444.3 308.1 L445.0 307.7 L445.8 307.4 L446.6 307.1 L447.4 306.8 L448.1 306.6 L448.9 306.4 L449.6 306.2 L450.3 306.0 L451.0 305.9 L451.6 305.7 L452.3 305.6 L452.9 305.4 L453.5 305.3 L454.1 305.2 L454.7 305.1 L455.3 305.0 L455.9 305.0 L456.5 304.9 L457.1 304.8 L457.6 304.8 L458.2 304.8 L458.8 304.7 L459.3 304.7 L459.9 304.7 L460.4 304.7 L460.9 304.7 L461.5 304.7 L462.0 304.6 L462.5 304.6 L463.1 304.6 L463.6 304.6 L464.2 304.6 L464.7 304.6 L465.3 304.5 L465.9 304.5 L466.4 304.5 L467.0 304.5 L467.6 304.5 L468.2 304.6 L468.8 304.6 L469.5 304.7 L470.1 304.8 L470.7 304.9 L471.4 305.0 L472.0 305.2 L472.6 305.3 L473.3 305.5 L474.0 305.8 L474.6 306.0 L475.3 306.3 L475.9 306.6 L476.6 306.9 L477.2 307.2 L477.9 307.6 L478.6 308.0 L479.2 308.4 L479.9 308.8 L480.5 309.3 L481.1 309.8 L481.7 310.4 L482.3 311.0 L482.8 311.6 L483.3 312.2 L483.7 312.9 L484.0 313.7 L484.3 314.4 L484.5 315.2 L484.6 316.0 L484.6 316.8 L484.6 317.6 L484.5 318.4 L484.3 319.2Z" fill="#660066"/>
<path d="M100.0 20.0 L410.0 20.0 L410.0 21.0 L405.0 24.0 L399.0 22.5 L396.0 29.0 L400.0 31.0 L397.5 37.5 L392.5 39.0 L389.0 35.0 L384.0 39.0 L379.0 39.0 L376.0 35.0 L372.5 39.0 L367.5 42.5 L365.0 46.0 L370.0 47.5 L372.5 51.0 L367.5 55.0 L365.0 60.0 L360.0 65.0 L355.0 65.0 L351.0 69.0 L344.0 70.0 L342.5 79.0 L340.0 81.0 L337.5 76.0 L334.0 79.0 L330.0 82.5 L326.0 80.0 L320.0 81.0 L317.5 90.0 L314.0 92.5 L311.0 97.5 L304.0 101.0 L301.0 107.5 L299.0 112.5 L292.5 111.0 L284.0 114.0 L277.5 116.0 L272.5 116.0 L270.0 119.0 L265.0 116.0 L260.0 117.5 L256.0 121.0 L250.0 120.0 L246.0 116.0 L240.0 119.0 L236.0 121.0 L231.0 122.5 L227.5 127.5 L224.0 126.0 L225.0 122.5 L224.5 117.5 L222.5 120.0 L217.5 120.0 L215.0 124.0 L214.0 131.0 L211.0 126.0 L206.0 125.0 L201.0 129.0 L199.0 126.0 L184.0 127.5 L180.0 124.0 L175.0 120.0 L171.0 112.5 L166.0 110.0 L169.0 117.5 L170.0 127.5 L167.5 130.0 L166.0 140.0 L161.0 142.5 L157.5 147.5 L154.0 146.0 L151.0 140.0 L150.0 146.0 L146.0 154.0 L141.0 157.5 L140.0 155.0 L134.0 156.0 L130.0 160.0 L125.0 164.0 L119.0 161.0 L116.0 164.0 L112.5 166.0 L110.0 164.0 L100.0 164.0Z M500.8 20.0 L498.8 27.8 L495.9 33.7 L490.0 38.6 L485.0 45.5 L481.0 51.4 L478.0 59.0 L472.0 67.0 L467.5 75.0 L464.5 84.7 L462.5 94.5 L460.6 104.0 L463.5 110.0 L466.5 118.0 L474.0 130.0 L481.0 135.7 L487.0 143.5 L490.0 155.0 L495.0 155.0 L498.0 147.5 L499.0 135.7 L504.7 126.0 L512.5 114.0 L518.4 104.0 L521.4 92.5 L524.3 80.8 L528.0 71.0 L532.0 59.0 L536.0 49.4 L539.0 39.6 L538.0 27.8 L542.0 23.0 L545.0 20.0Z M484.0 310.0 L492.5 305.0 L505.0 304.0 L515.0 307.5 L525.0 312.5 L535.0 317.5 L545.0 321.0 L552.5 315.0 L555.0 309.0 L559.0 312.5 L561.0 320.0 L560.0 330.0 L555.0 340.0 L554.0 350.0 L557.5 360.0 L565.0 367.5 L569.0 374.0 L566.0 380.0 L566.0 390.0 L562.5 397.5 L556.0 407.5 L555.0 410.0 L547.5 414.0 L537.5 417.5 L530.0 422.5 L526.0 432.5 L529.0 434.0 L524.0 444.0 L517.5 451.0 L519.0 456.0 L524.0 462.5 L526.0 472.5 L529.0 485.0 L532.5 495.0 L535.0 505.0 L540.0 509.0 L547.5 513.0 L555.0 515.0 L560.0 512.5 L557.0 506.0 L561.0 501.7 L567.0 503.8 L573.0 501.7 L581.7 505.0 L590.0 505.0 L594.0 512.0 L595.0 517.0 L593.0 521.5 L597.0 522.5 L604.6 521.5 L606.7 517.0 L602.5 512.0 L604.6 509.0 L607.7 509.0 L610.8 513.0 L617.0 515.0 L623.0 514.0 L627.5 518.0 L632.7 521.5 L629.6 523.5 L622.0 522.5 L617.0 524.6 L615.0 528.8 L618.0 535.0 L622.0 540.0 L625.4 544.0 L629.6 542.0 L630.6 545.0 L627.5 549.6 L632.7 551.7 L634.8 554.5 L612.0 554.5 L603.5 551.0 L599.5 544.0 L595.5 537.0 L591.5 532.5 L587.0 529.5 L583.0 524.6 L579.6 518.0 L573.0 514.0 L566.0 514.0 L567.0 520.0 L571.0 528.8 L574.0 537.0 L577.5 543.0 L575.0 546.5 L571.0 545.4 L569.0 538.0 L564.0 532.0 L557.7 525.6 L551.5 520.0 L546.0 516.0 L540.0 513.0 L535.0 509.6 L531.4 511.4 L526.0 515.0 L520.4 520.5 L515.0 527.0 L505.8 526.0 L500.3 522.4 L498.5 516.0 L489.4 515.0 L485.7 511.4 L484.8 503.0 L486.0 500.0 L492.5 495.0 L500.0 489.0 L497.5 486.0 L492.5 479.0 L486.0 474.0 L482.5 474.0 L481.0 477.5 L484.0 486.0 L481.0 490.0 L476.0 487.5 L470.0 482.5 L469.0 474.0 L464.0 472.5 L460.0 465.0 L459.0 452.5 L455.0 445.0 L454.0 432.5 L448.0 425.0 L447.0 415.0 L449.0 407.5 L454.0 404.0 L457.5 410.0 L462.5 416.0 L474.0 419.0 L476.0 415.0 L472.5 405.0 L471.0 395.0 L474.0 385.0 L476.0 370.0 L477.5 355.0 L477.5 337.5 L480.0 327.5 L485.0 317.5Z M643.0 508.0 L647.0 509.0 L649.0 514.0 L653.5 516.0 L653.5 522.5 L650.0 527.7 L644.0 531.0 L640.0 527.7 L640.0 522.5 L643.0 518.0 L642.0 512.0Z M539.0 466.0 L546.0 465.5 L547.0 475.0 L545.0 481.0 L542.5 475.0 L540.0 470.0Z M541.0 534.0 L546.0 532.5 L551.0 535.0 L552.5 540.0 L550.0 545.0 L545.0 546.5 L541.0 544.0 L539.5 539.0Z M472.5 532.5 L480.0 532.5 L490.0 535.0 L497.5 534.0 L505.0 539.0 L515.0 545.0 L522.0 550.0 L526.0 554.5 L487.5 554.5 L485.0 547.5 L480.0 542.5 L474.0 536.0Z M462.5 517.5 L466.0 519.0 L469.0 522.5 L466.0 522.0 L463.0 520.0Z M622.0 50.5 L625.0 50.0 L626.0 47.5 L631.0 47.5 L632.0 50.0 L633.0 52.7 L622.0 52.7Z M642.0 44.0 L644.0 44.0 L644.0 46.0 L646.0 46.0 L646.0 44.0 L648.0 44.0 L648.0 49.6 L642.0 49.6Z M325.0 89.5 L329.0 89.5 L329.0 91.5 L325.0 91.5Z M374.0 43.5 L378.0 43.5 L378.0 46.0 L374.0 46.0Z M386.0 44.0 L389.0 44.0 L389.0 48.0 L386.0 48.0Z M126.0 168.0 L130.0 167.0 L130.0 169.5 L126.0 169.5Z M134.0 165.0 L136.5 165.0 L136.5 173.0 L134.0 173.0Z M199.0 131.5 L202.0 131.0 L205.0 136.0 L203.0 139.0 L199.0 139.0Z M589.5 551.5 L592.0 550.5 L594.0 554.5 L589.5 554.5Z M553.0 474.0 L555.5 474.0 L555.5 476.0 L553.0 476.0Z M563.0 478.0 L566.0 478.0 L566.0 480.0 L563.0 480.0Z" fill="none" stroke="#999999" stroke-width="1" stroke-linejoin="round"/>
<rect x="438.5" y="83" width="1.5" height="2" fill="none" stroke="#999999" stroke-width="1"/>
<rect x="538.7" y="209.5" width="3" height="3" fill="none" stroke="#999999" stroke-width="1"/>
<rect x="545" y="224" width="2.5" height="2" fill="none" stroke="#999999" stroke-width="1"/>
<rect x="543.7" y="264.5" width="2.5" height="2.5" fill="none" stroke="#999999" stroke-width="1"/>
<rect x="521" y="271.5" width="5" height="4" fill="none" stroke="#999999" stroke-width="1"/>
<rect x="542" y="288" width="3" height="4.5" fill="none" stroke="#999999" stroke-width="1"/>
<rect x="517.5" y="292" width="4" height="1.5" fill="none" stroke="#999999" stroke-width="1"/>
<rect x="556.5" y="268.5" width="1.5" height="1.5" fill="none" stroke="#999999" stroke-width="1"/>
</g><g clip-path="url(#mc)">
<path d="M100.0 229.0 L113.0 216.5 L158.5 198.5 L234.0 215.5 L270.0 231.0 L333.0 260.0 L370.0 281.0 L456.3 332.0" fill="none" stroke="#989896" stroke-width="3" stroke-linejoin="round"/>
<path d="M456.3 332.0 L476.5 353.0 L500.5 379.5 L521.6 389.5 L561.5 403.3 L604.2 425.0 L654.0 439.6 L681.0 452.0" fill="none" stroke="#999999" stroke-width="6.2" stroke-linejoin="round"/>
<circle cx="456.3" cy="332" r="6.3" fill="#999999"/>
</g>
<rect x="355.5" y="38.5" width="8" height="8" fill="none" stroke="#ffffff" stroke-width="1" shape-rendering="crispEdges"/>
<text x="292" y="47" font-size="11.8" fill="#ffffff" textLength="62" lengthAdjust="spacingAndGlyphs">Zhangzhou</text>
<rect x="328.5" y="65.5" width="8" height="8" fill="none" stroke="#ffffff" stroke-width="1" shape-rendering="crispEdges"/>
<text x="282" y="73.5" font-size="11.8" fill="#ffffff" textLength="44.5" lengthAdjust="spacingAndGlyphs">Yunxiao</text>
<rect x="153.5" y="100.5" width="8" height="8" fill="none" stroke="#ffffff" stroke-width="1" shape-rendering="crispEdges"/>
<text x="162" y="108.5" font-size="11.8" fill="#ffffff" textLength="62" lengthAdjust="spacingAndGlyphs">Guangzhou</text>
<rect x="284.5" y="105.5" width="8" height="8" fill="none" stroke="#ffffff" stroke-width="1" shape-rendering="crispEdges"/>
<text x="236" y="113.5" font-size="11.8" fill="#ffffff" textLength="48" lengthAdjust="spacingAndGlyphs">Shantou</text>
<rect x="194.5" y="131.5" width="8" height="8" fill="none" stroke="#ffffff" stroke-width="1" shape-rendering="crispEdges"/>
<text x="133" y="140" font-size="11.8" fill="#ffffff" textLength="60" lengthAdjust="spacingAndGlyphs">Hong Kong</text>
<rect x="483.5" y="54.5" width="8" height="8" fill="none" stroke="#ffffff" stroke-width="1" shape-rendering="crispEdges"/>
<text x="491" y="63" font-size="11.8" fill="#ffffff" textLength="54" lengthAdjust="spacingAndGlyphs">T'aichung</text>
<rect x="465.5" y="122.5" width="8" height="8" fill="none" stroke="#ffffff" stroke-width="1" shape-rendering="crispEdges"/>
<text x="473" y="131" font-size="11.8" fill="#ffffff" textLength="64" lengthAdjust="spacingAndGlyphs">Kao-hsiung</text>
<rect x="484.5" y="319.5" width="8" height="8" fill="none" stroke="#ffffff" stroke-width="1" shape-rendering="crispEdges"/>
<text x="494.4" y="327.5" font-size="11.8" fill="#ffffff" textLength="31.9" lengthAdjust="spacingAndGlyphs">Laoa<tspan fill="#000">g</tspan></text>
<rect x="531.5" y="344.5" width="8" height="8" fill="none" stroke="#000000" stroke-width="1" shape-rendering="crispEdges"/>
<text x="463" y="347.5" font-size="11.8" fill="#ffffff" textLength="66" lengthAdjust="spacingAndGlyphs">Tu<tspan fill="#000">guegarao</tspan></text>
<rect x="475.5" y="350.5" width="8" height="8" fill="none" stroke="#ffffff" stroke-width="1" shape-rendering="crispEdges"/>
<text x="485" y="364" font-size="11.8" fill="#000000" textLength="32" lengthAdjust="spacingAndGlyphs">Vigan</text>
<path d="M479 358.5H484" stroke="#000" stroke-width="1"/>
<rect x="522.5" y="386.5" width="8" height="8" fill="none" stroke="#ffffff" stroke-width="1" shape-rendering="crispEdges"/>
<text x="472" y="395" font-size="11.8" fill="#000000" textLength="48" lengthAdjust="spacingAndGlyphs">Santiag<tspan fill="#fff">o</tspan></text>
<rect x="496.5" y="426.5" width="8" height="8" fill="none" stroke="#ffffff" stroke-width="1" shape-rendering="crispEdges"/>
<text x="447" y="435" font-size="11.8" fill="#ffffff" textLength="48" lengthAdjust="spacingAndGlyphs">San Jose</text>
<rect x="497.5" y="478.5" width="8" height="8" fill="none" stroke="#ffffff" stroke-width="1" shape-rendering="crispEdges"/>
<text x="505" y="486.5" font-size="11.8" fill="#ffffff" textLength="40" lengthAdjust="spacingAndGlyphs">MANILA</text>
<rect x="582.5" y="497.5" width="8" height="8" fill="none" stroke="#ffffff" stroke-width="1" shape-rendering="crispEdges"/>
<text x="556" y="505" font-size="11.8" fill="#ffffff" textLength="25.5" lengthAdjust="spacingAndGlyphs">Daet</text>
<rect x="484.5" y="542.5" width="8" height="8" fill="none" stroke="#ffffff" stroke-width="1" shape-rendering="crispEdges"/>
<text x="493" y="551" font-size="11.8" fill="#ffffff" textLength="60" lengthAdjust="spacingAndGlyphs">Mamburao</text>
<text x="104" y="154" font-size="10.5" font-weight="bold" fill="#00cc00" textLength="171" lengthAdjust="spacingAndGlyphs">Hongkong &amp; Macau(China)</text>
<text x="462" y="93" font-size="17" font-weight="bold" fill="#00cc00" textLength="62" lengthAdjust="spacingAndGlyphs">Taiwan</text>
<path d="M100 20.5H672 M100.5 20V554.5" stroke="#c0c0c0" stroke-width="1" fill="none"/>
<path d="M143.6 20v4.6M143.6 554.5v-4.6M188.2 20v8.5M188.2 554.5v-8.5M232.9 20v4.6M232.9 554.5v-4.6M277.5 20v8.5M277.5 554.5v-8.5M322.1 20v4.6M322.1 554.5v-4.6M366.7 20v8.5M366.7 554.5v-8.5M411.3 20v4.6M411.3 554.5v-4.6M456.0 20v8.5M456.0 554.5v-8.5M500.6 20v4.6M500.6 554.5v-4.6M545.2 20v8.5M545.2 554.5v-8.5M589.8 20v4.6M589.8 554.5v-4.6M634.4 20v8.5M634.4 554.5v-8.5M100 20.0h8.5M680 20.0h-8.5M100 42.3h4.6M680 42.3h-4.6M100 64.5h8.5M680 64.5h-8.5M100 86.8h4.6M680 86.8h-4.6M100 109.1h8.5M680 109.1h-8.5M100 131.4h4.6M680 131.4h-4.6M100 153.6h8.5M680 153.6h-8.5M100 175.9h4.6M680 175.9h-4.6M100 198.2h8.5M680 198.2h-8.5M100 220.4h4.6M680 220.4h-4.6M100 242.7h8.5M680 242.7h-8.5M100 265.0h4.6M680 265.0h-4.6M100 287.2h8.5M680 287.2h-8.5M100 309.5h4.6M680 309.5h-4.6M100 331.8h8.5M680 331.8h-8.5M100 354.1h4.6M680 354.1h-4.6M100 376.3h8.5M680 376.3h-8.5M100 398.6h4.6M680 398.6h-4.6M100 420.9h8.5M680 420.9h-8.5M100 443.1h4.6M680 443.1h-4.6M100 465.4h8.5M680 465.4h-8.5M100 487.7h4.6M680 487.7h-4.6M100 510.0h8.5M680 510.0h-8.5M100 532.2h4.6M680 532.2h-4.6M100 554.5h8.5M680 554.5h-8.5" stroke="#ffffff" stroke-width="1" fill="none" shape-rendering="crispEdges"/>
<text x="94.5" y="560.5" font-size="17" fill="#3a3a3a" text-anchor="end" textLength="39" lengthAdjust="spacingAndGlyphs">13°N</text>
<text x="94.5" y="516.0" font-size="17" fill="#3a3a3a" text-anchor="end" textLength="39" lengthAdjust="spacingAndGlyphs">14°N</text>
<text x="94.5" y="471.4" font-size="17" fill="#3a3a3a" text-anchor="end" textLength="39" lengthAdjust="spacingAndGlyphs">15°N</text>
<text x="94.5" y="426.9" font-size="17" fill="#3a3a3a" text-anchor="end" textLength="39" lengthAdjust="spacingAndGlyphs">16°N</text>
<text x="94.5" y="382.3" font-size="17" fill="#3a3a3a" text-anchor="end" textLength="39" lengthAdjust="spacingAndGlyphs">17°N</text>
<text x="94.5" y="337.8" font-size="17" fill="#3a3a3a" text-anchor="end" textLength="39" lengthAdjust="spacingAndGlyphs">18°N</text>
<text x="94.5" y="293.2" font-size="17" fill="#3a3a3a" text-anchor="end" textLength="39" lengthAdjust="spacingAndGlyphs">19°N</text>
<text x="94.5" y="248.7" font-size="17" fill="#3a3a3a" text-anchor="end" textLength="39" lengthAdjust="spacingAndGlyphs">20°N</text>
<text x="94.5" y="204.2" font-size="17" fill="#3a3a3a" text-anchor="end" textLength="39" lengthAdjust="spacingAndGlyphs">21°N</text>
<text x="94.5" y="159.6" font-size="17" fill="#3a3a3a" text-anchor="end" textLength="39" lengthAdjust="spacingAndGlyphs">22°N</text>
<text x="94.5" y="115.1" font-size="17" fill="#3a3a3a" text-anchor="end" textLength="39" lengthAdjust="spacingAndGlyphs">23°N</text>
<text x="94.5" y="70.5" font-size="17" fill="#3a3a3a" text-anchor="end" textLength="39" lengthAdjust="spacingAndGlyphs">24°N</text>
<text x="94.5" y="26.0" font-size="17" fill="#3a3a3a" text-anchor="end" textLength="39" lengthAdjust="spacingAndGlyphs">25°N</text>
<text x="190.4" y="579" font-size="17" fill="#3a3a3a" text-anchor="middle" textLength="47" lengthAdjust="spacingAndGlyphs">114°E</text>
<text x="279.7" y="579" font-size="17" fill="#3a3a3a" text-anchor="middle" textLength="47" lengthAdjust="spacingAndGlyphs">116°E</text>
<text x="368.9" y="579" font-size="17" fill="#3a3a3a" text-anchor="middle" textLength="47" lengthAdjust="spacingAndGlyphs">118°E</text>
<text x="458.2" y="579" font-size="17" fill="#3a3a3a" text-anchor="middle" textLength="47" lengthAdjust="spacingAndGlyphs">120°E</text>
<text x="547.4" y="579" font-size="17" fill="#3a3a3a" text-anchor="middle" textLength="47" lengthAdjust="spacingAndGlyphs">122°E</text>
<text x="636.6" y="579" font-size="17" fill="#3a3a3a" text-anchor="middle" textLength="47" lengthAdjust="spacingAndGlyphs">124°E</text>
<text x="390.5" y="603" font-size="17" fill="#3a3a3a" text-anchor="middle" textLength="95" lengthAdjust="spacingAndGlyphs">LONGITUDE</text>
<text transform="translate(45.4,286.5) rotate(-90)" font-size="17" fill="#3a3a3a" text-anchor="middle" textLength="76" lengthAdjust="spacingAndGlyphs">LATITUDE</text>
<text x="17" y="611" font-size="17" fill="#3a3a3a" textLength="80" lengthAdjust="spacingAndGlyphs">Probability</text>
<rect x="27" y="636" width="33.2" height="14.5" fill="#99ffff"/>
<rect x="60" y="636" width="33.2" height="14.5" fill="#33ffff"/>
<rect x="93" y="636" width="33.2" height="14.5" fill="#00ffcc"/>
<rect x="126" y="636" width="33.2" height="14.5" fill="#00ff66"/>
<rect x="159" y="636" width="33.2" height="14.5" fill="#00ff00"/>
<rect x="192" y="636" width="33.2" height="14.5" fill="#66ff00"/>
<rect x="225" y="636" width="33.2" height="14.5" fill="#ccff00"/>
<rect x="258" y="636" width="33.2" height="14.5" fill="#ffff00"/>
<rect x="291" y="636" width="33.2" height="14.5" fill="#ffcc00"/>
<rect x="324" y="636" width="33.2" height="14.5" fill="#ff9900"/>
<rect x="357" y="636" width="33.2" height="14.5" fill="#ff6600"/>
<rect x="390" y="636" width="33.2" height="14.5" fill="#ff3300"/>
<rect x="423" y="636" width="33.2" height="14.5" fill="#ff0000"/>
<rect x="456" y="636" width="33.2" height="14.5" fill="#cc0066"/>
<rect x="489" y="636" width="33.2" height="14.5" fill="#cc00cc"/>
<rect x="522" y="636" width="33.2" height="14.5" fill="#cc00ff"/>
<rect x="555" y="636" width="33.2" height="14.5" fill="#9900ff"/>
<rect x="588" y="636" width="33.2" height="14.5" fill="#6600cc"/>
<rect x="621" y="636" width="33.2" height="14.5" fill="#660099"/>
<rect x="654" y="636" width="33.2" height="14.5" fill="#660066"/>
<text x="29.9" y="669" font-size="17" fill="#3a3a3a" text-anchor="middle" textLength="24" lengthAdjust="spacingAndGlyphs">1%</text>
<text x="63.4" y="669" font-size="17" fill="#3a3a3a" text-anchor="middle" textLength="9.5" lengthAdjust="spacingAndGlyphs">5</text>
<text x="96.4" y="669" font-size="17" fill="#3a3a3a" text-anchor="middle" textLength="19" lengthAdjust="spacingAndGlyphs">10</text>
<text x="129.4" y="669" font-size="17" fill="#3a3a3a" text-anchor="middle" textLength="19" lengthAdjust="spacingAndGlyphs">15</text>
<text x="162.4" y="669" font-size="17" fill="#3a3a3a" text-anchor="middle" textLength="19" lengthAdjust="spacingAndGlyphs">20</text>
<text x="195.4" y="669" font-size="17" fill="#3a3a3a" text-anchor="middle" textLength="19" lengthAdjust="spacingAndGlyphs">25</text>
<text x="228.4" y="669" font-size="17" fill="#3a3a3a" text-anchor="middle" textLength="19" lengthAdjust="spacingAndGlyphs">30</text>
<text x="261.4" y="669" font-size="17" fill="#3a3a3a" text-anchor="middle" textLength="19" lengthAdjust="spacingAndGlyphs">35</text>
<text x="294.4" y="669" font-size="17" fill="#3a3a3a" text-anchor="middle" textLength="19" lengthAdjust="spacingAndGlyphs">40</text>
<text x="327.4" y="669" font-size="17" fill="#3a3a3a" text-anchor="middle" textLength="19" lengthAdjust="spacingAndGlyphs">45</text>
<text x="360.4" y="669" font-size="17" fill="#3a3a3a" text-anchor="middle" textLength="19" lengthAdjust="spacingAndGlyphs">50</text>
<text x="393.4" y="669" font-size="17" fill="#3a3a3a" text-anchor="middle" textLength="19" lengthAdjust="spacingAndGlyphs">55</text>
<text x="426.4" y="669" font-size="17" fill="#3a3a3a" text-anchor="middle" textLength="19" lengthAdjust="spacingAndGlyphs">60</text>
<text x="459.4" y="669" font-size="17" fill="#3a3a3a" text-anchor="middle" textLength="19" lengthAdjust="spacingAndGlyphs">65</text>
<text x="492.4" y="669" font-size="17" fill="#3a3a3a" text-anchor="middle" textLength="19" lengthAdjust="spacingAndGlyphs">70</text>
<text x="525.4" y="669" font-size="17" fill="#3a3a3a" text-anchor="middle" textLength="19" lengthAdjust="spacingAndGlyphs">75</text>
<text x="558.4" y="669" font-size="17" fill="#3a3a3a" text-anchor="middle" textLength="19" lengthAdjust="spacingAndGlyphs">80</text>
<text x="591.4" y="669" font-size="17" fill="#3a3a3a" text-anchor="middle" textLength="19" lengthAdjust="spacingAndGlyphs">85</text>
<text x="624.4" y="669" font-size="17" fill="#3a3a3a" text-anchor="middle" textLength="19" lengthAdjust="spacingAndGlyphs">90</text>
<text x="657.4" y="669" font-size="17" fill="#3a3a3a" text-anchor="middle" textLength="19" lengthAdjust="spacingAndGlyphs">95</text>
<text x="699.4" y="669" font-size="17" fill="#3a3a3a" text-anchor="middle" textLength="42" lengthAdjust="spacingAndGlyphs">100%</text>
<path d="M213 701H265" stroke="#000" stroke-width="4" stroke-linecap="round"/>
<text x="237.5" y="729" font-size="17" fill="#3a3a3a" text-anchor="middle" textLength="81" lengthAdjust="spacingAndGlyphs">Past Track</text>
<circle cx="353.5" cy="694.5" r="3.5" fill="#000"/>
<text x="359" y="729" font-size="17" fill="#3a3a3a" text-anchor="middle" textLength="126" lengthAdjust="spacingAndGlyphs">Current Position</text>
<path d="M524 693.5L541.5 701L524 708.5Z" fill="#fff" stroke="#000" stroke-width="2"/><path d="M471 701H541" stroke="#000" stroke-width="1.8"/>
<text x="516" y="729" font-size="17" fill="#3a3a3a" text-anchor="middle" textLength="116" lengthAdjust="spacingAndGlyphs">Forecast Track</text>
</svg></body></html>
